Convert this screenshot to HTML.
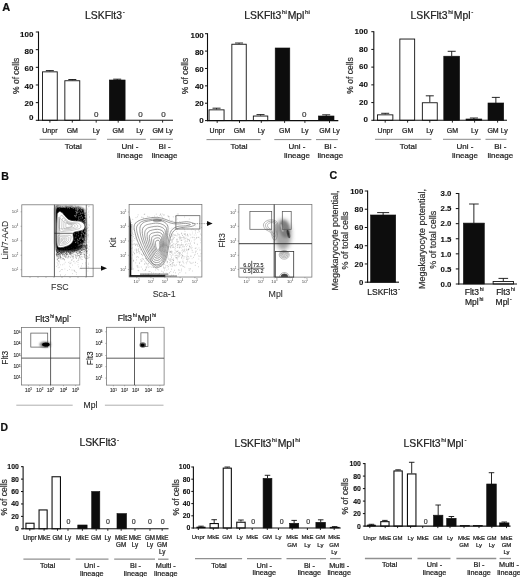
<!DOCTYPE html>
<html lang="en"><head><meta charset="utf-8"><title>Figure</title>
<style>html,body{margin:0;padding:0;background:#fff;}body{width:520px;height:577px;overflow:hidden;}svg{display:block;font-family:'Liberation Sans', sans-serif;}</style></head><body>
<svg width="520" height="577" viewBox="0 0 520 577">
<defs><filter id="b1" x="-30%" y="-30%" width="160%" height="160%"><feGaussianBlur stdDeviation="1"/></filter><filter id="b2" x="-30%" y="-30%" width="160%" height="160%"><feGaussianBlur stdDeviation="2"/></filter><filter id="b05" x="-30%" y="-30%" width="160%" height="160%"><feGaussianBlur stdDeviation="0.5"/></filter><filter id="b03" x="-10%" y="-10%" width="120%" height="120%"><feGaussianBlur stdDeviation="0.3"/></filter></defs>
<rect width="520" height="577" fill="#fff"/>
<g filter="url(#b03)">
<text x="2.20" y="11.00" font-size="11" text-anchor="start" font-weight="bold" fill="#111" stroke="#111" stroke-width="0.22">A</text>
<text x="1.30" y="180.20" font-size="10.6" text-anchor="start" font-weight="bold" fill="#111" stroke="#111" stroke-width="0.22">B</text>
<text x="329.50" y="179.30" font-size="10.6" text-anchor="start" font-weight="bold" fill="#111" stroke="#111" stroke-width="0.22">C</text>
<text x="0.50" y="430.70" font-size="10.4" text-anchor="start" font-weight="bold" fill="#111" stroke="#111" stroke-width="0.22">D</text>
<text x="85.00" y="18.50" font-size="10.4" text-anchor="start" fill="#222" stroke="#222" stroke-width="0.22">LSKFlt3<tspan dx="0.7" dy="-4.78" font-size="6.24">-</tspan></text>
<line x1="49.85" y1="71.40" x2="49.85" y2="70.60" stroke="#111" stroke-width="0.9"/>
<line x1="45.85" y1="70.60" x2="53.85" y2="70.60" stroke="#111" stroke-width="0.9"/>
<rect x="42.45" y="71.85" width="14.80" height="48.45" fill="#fff" stroke="#111" stroke-width="0.9"/>
<line x1="72.30" y1="80.30" x2="72.30" y2="79.50" stroke="#111" stroke-width="0.9"/>
<line x1="68.30" y1="79.50" x2="76.30" y2="79.50" stroke="#111" stroke-width="0.9"/>
<rect x="64.85" y="80.75" width="14.90" height="39.55" fill="#fff" stroke="#111" stroke-width="0.9"/>
<line x1="117.20" y1="80.00" x2="117.20" y2="79.20" stroke="#111" stroke-width="0.9"/>
<line x1="113.20" y1="79.20" x2="121.20" y2="79.20" stroke="#111" stroke-width="0.9"/>
<rect x="109.30" y="80.00" width="15.80" height="40.30" fill="#0a0a0a" stroke="#0a0a0a" stroke-width="0.6"/>
<line x1="38.50" y1="31.50" x2="38.50" y2="120.80" stroke="#111" stroke-width="1.1"/>
<line x1="38.00" y1="120.30" x2="173.00" y2="120.30" stroke="#111" stroke-width="1.1"/>
<line x1="35.80" y1="120.30" x2="38.50" y2="120.30" stroke="#111" stroke-width="1"/>
<text x="33.40" y="120.08" font-size="8" text-anchor="end" font-weight="bold" fill="#111" stroke="#111" stroke-width="0.12">0</text>
<line x1="35.80" y1="102.64" x2="38.50" y2="102.64" stroke="#111" stroke-width="1"/>
<text x="33.40" y="105.98" font-size="8" text-anchor="end" font-weight="bold" fill="#111" stroke="#111" stroke-width="0.12">20</text>
<line x1="35.80" y1="84.98" x2="38.50" y2="84.98" stroke="#111" stroke-width="1"/>
<text x="33.40" y="88.63" font-size="8" text-anchor="end" font-weight="bold" fill="#111" stroke="#111" stroke-width="0.12">40</text>
<line x1="35.80" y1="67.32" x2="38.50" y2="67.32" stroke="#111" stroke-width="1"/>
<text x="33.40" y="71.28" font-size="8" text-anchor="end" font-weight="bold" fill="#111" stroke="#111" stroke-width="0.12">60</text>
<line x1="35.80" y1="49.66" x2="38.50" y2="49.66" stroke="#111" stroke-width="1"/>
<text x="33.40" y="53.93" font-size="8" text-anchor="end" font-weight="bold" fill="#111" stroke="#111" stroke-width="0.12">80</text>
<line x1="35.80" y1="32.00" x2="38.50" y2="32.00" stroke="#111" stroke-width="1"/>
<text x="33.40" y="36.58" font-size="8" text-anchor="end" font-weight="bold" fill="#111" stroke="#111" stroke-width="0.12">100</text>
<line x1="49.90" y1="120.30" x2="49.90" y2="122.60" stroke="#111" stroke-width="0.9"/>
<line x1="72.30" y1="120.30" x2="72.30" y2="122.60" stroke="#111" stroke-width="0.9"/>
<line x1="96.20" y1="120.30" x2="96.20" y2="122.60" stroke="#111" stroke-width="0.9"/>
<line x1="118.20" y1="120.30" x2="118.20" y2="122.60" stroke="#111" stroke-width="0.9"/>
<line x1="139.80" y1="120.30" x2="139.80" y2="122.60" stroke="#111" stroke-width="0.9"/>
<line x1="162.60" y1="120.30" x2="162.60" y2="122.60" stroke="#111" stroke-width="0.9"/>
<text x="96.30" y="117.26" font-size="8" text-anchor="middle" fill="#3a3a3a" stroke="#3a3a3a" stroke-width="0.22">0</text>
<text x="140.60" y="117.26" font-size="8" text-anchor="middle" fill="#3a3a3a" stroke="#3a3a3a" stroke-width="0.22">0</text>
<text x="163.50" y="117.26" font-size="8" text-anchor="middle" fill="#3a3a3a" stroke="#3a3a3a" stroke-width="0.22">0</text>
<text x="49.90" y="133.00" font-size="7" text-anchor="middle" fill="#222" stroke="#222" stroke-width="0.22">Unpr</text>
<text x="72.30" y="133.00" font-size="7" text-anchor="middle" fill="#222" stroke="#222" stroke-width="0.22">GM</text>
<text x="96.20" y="133.00" font-size="7" text-anchor="middle" fill="#222" stroke="#222" stroke-width="0.22">Ly</text>
<text x="118.20" y="133.00" font-size="7" text-anchor="middle" fill="#222" stroke="#222" stroke-width="0.22">GM</text>
<text x="139.80" y="133.00" font-size="7" text-anchor="middle" fill="#222" stroke="#222" stroke-width="0.22">Ly</text>
<text x="162.60" y="133.00" font-size="7" text-anchor="middle" fill="#222" stroke="#222" stroke-width="0.22">GM Ly</text>
<line x1="39.60" y1="139.30" x2="96.30" y2="139.30" stroke="#555" stroke-width="0.7"/>
<text x="73.30" y="148.80" font-size="8.0" text-anchor="middle" fill="#222" stroke="#222" stroke-width="0.22">Total</text>
<line x1="107.00" y1="139.30" x2="145.80" y2="139.30" stroke="#555" stroke-width="0.7"/>
<text x="130.00" y="148.80" font-size="8.0" text-anchor="middle" fill="#222" stroke="#222" stroke-width="0.22">Uni -</text>
<text x="130.00" y="157.60" font-size="8.0" text-anchor="middle" fill="#222" stroke="#222" stroke-width="0.22">lineage</text>
<line x1="150.00" y1="139.30" x2="173.00" y2="139.30" stroke="#555" stroke-width="0.7"/>
<text x="164.60" y="148.80" font-size="8.0" text-anchor="middle" fill="#222" stroke="#222" stroke-width="0.22">Bi -</text>
<text x="164.60" y="157.60" font-size="8.0" text-anchor="middle" fill="#222" stroke="#222" stroke-width="0.22">lineage</text>
<text x="18.84" y="75.80" font-size="8.5" text-anchor="middle" fill="#333" stroke="#333" stroke-width="0.22" transform="rotate(-90 18.84 75.80)">% of cells</text>
<text x="244.30" y="18.70" font-size="10.4" text-anchor="start" fill="#222" stroke="#222" stroke-width="0.22">LSKFlt3<tspan dx="0.7" dy="-4.78" font-size="6.24">hi</tspan><tspan dx="0.8" dy="4.78">Mpl</tspan><tspan dx="0.7" dy="-4.78" font-size="6.24">hi</tspan></text>
<line x1="216.55" y1="109.40" x2="216.55" y2="108.20" stroke="#111" stroke-width="0.9"/>
<line x1="212.55" y1="108.20" x2="220.55" y2="108.20" stroke="#111" stroke-width="0.9"/>
<rect x="209.05" y="109.85" width="15.00" height="10.75" fill="#fff" stroke="#111" stroke-width="0.9"/>
<line x1="239.05" y1="43.80" x2="239.05" y2="43.00" stroke="#111" stroke-width="0.9"/>
<line x1="235.05" y1="43.00" x2="243.05" y2="43.00" stroke="#111" stroke-width="0.9"/>
<rect x="231.85" y="44.25" width="14.40" height="76.35" fill="#fff" stroke="#111" stroke-width="0.9"/>
<line x1="260.55" y1="115.60" x2="260.55" y2="114.60" stroke="#111" stroke-width="0.9"/>
<line x1="256.55" y1="114.60" x2="264.55" y2="114.60" stroke="#111" stroke-width="0.9"/>
<rect x="253.35" y="116.05" width="14.40" height="4.55" fill="#fff" stroke="#111" stroke-width="0.9"/>
<rect x="275.20" y="48.00" width="14.60" height="72.60" fill="#0a0a0a" stroke="#0a0a0a" stroke-width="0.6"/>
<line x1="326.20" y1="116.00" x2="326.20" y2="114.80" stroke="#111" stroke-width="0.9"/>
<line x1="322.20" y1="114.80" x2="330.20" y2="114.80" stroke="#111" stroke-width="0.9"/>
<rect x="318.40" y="116.00" width="15.60" height="4.60" fill="#0a0a0a" stroke="#0a0a0a" stroke-width="0.6"/>
<line x1="207.50" y1="33.20" x2="207.50" y2="121.10" stroke="#111" stroke-width="1.1"/>
<line x1="207.00" y1="120.60" x2="338.30" y2="120.60" stroke="#111" stroke-width="1.1"/>
<line x1="205.00" y1="120.60" x2="207.50" y2="120.60" stroke="#111" stroke-width="1"/>
<text x="203.80" y="123.48" font-size="8" text-anchor="end" font-weight="bold" fill="#111" stroke="#111" stroke-width="0.12">0</text>
<line x1="205.00" y1="103.22" x2="207.50" y2="103.22" stroke="#111" stroke-width="1"/>
<text x="203.80" y="106.34" font-size="8" text-anchor="end" font-weight="bold" fill="#111" stroke="#111" stroke-width="0.12">20</text>
<line x1="205.00" y1="85.84" x2="207.50" y2="85.84" stroke="#111" stroke-width="1"/>
<text x="203.80" y="89.20" font-size="8" text-anchor="end" font-weight="bold" fill="#111" stroke="#111" stroke-width="0.12">40</text>
<line x1="205.00" y1="68.46" x2="207.50" y2="68.46" stroke="#111" stroke-width="1"/>
<text x="203.80" y="72.06" font-size="8" text-anchor="end" font-weight="bold" fill="#111" stroke="#111" stroke-width="0.12">60</text>
<line x1="205.00" y1="51.08" x2="207.50" y2="51.08" stroke="#111" stroke-width="1"/>
<text x="203.80" y="54.92" font-size="8" text-anchor="end" font-weight="bold" fill="#111" stroke="#111" stroke-width="0.12">80</text>
<line x1="205.00" y1="33.70" x2="207.50" y2="33.70" stroke="#111" stroke-width="1"/>
<text x="203.80" y="37.78" font-size="8" text-anchor="end" font-weight="bold" fill="#111" stroke="#111" stroke-width="0.12">100</text>
<line x1="217.20" y1="120.60" x2="217.20" y2="122.90" stroke="#111" stroke-width="0.9"/>
<line x1="239.50" y1="120.60" x2="239.50" y2="122.90" stroke="#111" stroke-width="0.9"/>
<line x1="261.30" y1="120.60" x2="261.30" y2="122.90" stroke="#111" stroke-width="0.9"/>
<line x1="284.60" y1="120.60" x2="284.60" y2="122.90" stroke="#111" stroke-width="0.9"/>
<line x1="304.90" y1="120.60" x2="304.90" y2="122.90" stroke="#111" stroke-width="0.9"/>
<line x1="329.50" y1="120.60" x2="329.50" y2="122.90" stroke="#111" stroke-width="0.9"/>
<text x="304.20" y="117.36" font-size="8" text-anchor="middle" fill="#3a3a3a" stroke="#3a3a3a" stroke-width="0.22">0</text>
<text x="217.20" y="133.00" font-size="7" text-anchor="middle" fill="#222" stroke="#222" stroke-width="0.22">Unpr</text>
<text x="239.50" y="133.00" font-size="7" text-anchor="middle" fill="#222" stroke="#222" stroke-width="0.22">GM</text>
<text x="261.30" y="133.00" font-size="7" text-anchor="middle" fill="#222" stroke="#222" stroke-width="0.22">Ly</text>
<text x="284.60" y="133.00" font-size="7" text-anchor="middle" fill="#222" stroke="#222" stroke-width="0.22">GM</text>
<text x="304.90" y="133.00" font-size="7" text-anchor="middle" fill="#222" stroke="#222" stroke-width="0.22">Ly</text>
<text x="329.50" y="133.00" font-size="7" text-anchor="middle" fill="#222" stroke="#222" stroke-width="0.22">GM Ly</text>
<line x1="206.50" y1="139.60" x2="260.60" y2="139.60" stroke="#555" stroke-width="0.7"/>
<text x="239.00" y="149.10" font-size="8.0" text-anchor="middle" fill="#222" stroke="#222" stroke-width="0.22">Total</text>
<line x1="274.30" y1="139.60" x2="311.40" y2="139.60" stroke="#555" stroke-width="0.7"/>
<text x="297.00" y="149.10" font-size="8.0" text-anchor="middle" fill="#222" stroke="#222" stroke-width="0.22">Uni -</text>
<text x="297.00" y="157.90" font-size="8.0" text-anchor="middle" fill="#222" stroke="#222" stroke-width="0.22">lineage</text>
<line x1="316.00" y1="139.60" x2="337.80" y2="139.60" stroke="#555" stroke-width="0.7"/>
<text x="330.30" y="149.10" font-size="8.0" text-anchor="middle" fill="#222" stroke="#222" stroke-width="0.22">Bi -</text>
<text x="330.30" y="157.90" font-size="8.0" text-anchor="middle" fill="#222" stroke="#222" stroke-width="0.22">lineage</text>
<text x="188.44" y="76.00" font-size="8.5" text-anchor="middle" fill="#333" stroke="#333" stroke-width="0.22" transform="rotate(-90 188.44 76.00)">% of cells</text>
<text x="410.50" y="18.60" font-size="10.4" text-anchor="start" fill="#222" stroke="#222" stroke-width="0.22">LSKFlt3<tspan dx="0.7" dy="-4.78" font-size="6.24">hi</tspan><tspan dx="0.8" dy="4.78">Mpl</tspan><tspan dx="0.7" dy="-4.78" font-size="6.24">-</tspan></text>
<line x1="385.20" y1="114.40" x2="385.20" y2="113.30" stroke="#111" stroke-width="0.9"/>
<line x1="381.20" y1="113.30" x2="389.20" y2="113.30" stroke="#111" stroke-width="0.9"/>
<rect x="377.55" y="114.85" width="15.30" height="5.45" fill="#fff" stroke="#111" stroke-width="0.9"/>
<rect x="399.85" y="39.05" width="14.80" height="81.25" fill="#fff" stroke="#111" stroke-width="0.9"/>
<line x1="429.80" y1="102.30" x2="429.80" y2="95.80" stroke="#111" stroke-width="0.9"/>
<line x1="425.80" y1="95.80" x2="433.80" y2="95.80" stroke="#111" stroke-width="0.9"/>
<rect x="422.35" y="102.75" width="14.90" height="17.55" fill="#fff" stroke="#111" stroke-width="0.9"/>
<line x1="451.70" y1="56.20" x2="451.70" y2="51.30" stroke="#111" stroke-width="0.9"/>
<line x1="447.70" y1="51.30" x2="455.70" y2="51.30" stroke="#111" stroke-width="0.9"/>
<rect x="443.80" y="56.20" width="15.80" height="64.10" fill="#0a0a0a" stroke="#0a0a0a" stroke-width="0.6"/>
<line x1="473.90" y1="119.00" x2="473.90" y2="118.00" stroke="#111" stroke-width="0.9"/>
<line x1="469.90" y1="118.00" x2="477.90" y2="118.00" stroke="#111" stroke-width="0.9"/>
<rect x="466.00" y="119.00" width="15.80" height="1.30" fill="#0a0a0a" stroke="#0a0a0a" stroke-width="0.6"/>
<line x1="495.85" y1="103.00" x2="495.85" y2="97.40" stroke="#111" stroke-width="0.9"/>
<line x1="491.85" y1="97.40" x2="499.85" y2="97.40" stroke="#111" stroke-width="0.9"/>
<rect x="488.00" y="103.00" width="15.70" height="17.30" fill="#0a0a0a" stroke="#0a0a0a" stroke-width="0.6"/>
<line x1="373.80" y1="31.20" x2="373.80" y2="120.80" stroke="#111" stroke-width="1.1"/>
<line x1="373.30" y1="120.30" x2="507.00" y2="120.30" stroke="#111" stroke-width="1.1"/>
<line x1="371.30" y1="120.30" x2="373.80" y2="120.30" stroke="#111" stroke-width="1"/>
<text x="367.90" y="122.18" font-size="8" text-anchor="end" font-weight="bold" fill="#111" stroke="#111" stroke-width="0.12">0</text>
<line x1="371.30" y1="102.58" x2="373.80" y2="102.58" stroke="#111" stroke-width="1"/>
<text x="367.90" y="104.54" font-size="8" text-anchor="end" font-weight="bold" fill="#111" stroke="#111" stroke-width="0.12">20</text>
<line x1="371.30" y1="84.86" x2="373.80" y2="84.86" stroke="#111" stroke-width="1"/>
<text x="367.90" y="86.90" font-size="8" text-anchor="end" font-weight="bold" fill="#111" stroke="#111" stroke-width="0.12">40</text>
<line x1="371.30" y1="67.14" x2="373.80" y2="67.14" stroke="#111" stroke-width="1"/>
<text x="367.90" y="69.26" font-size="8" text-anchor="end" font-weight="bold" fill="#111" stroke="#111" stroke-width="0.12">60</text>
<line x1="371.30" y1="49.42" x2="373.80" y2="49.42" stroke="#111" stroke-width="1"/>
<text x="367.90" y="51.62" font-size="8" text-anchor="end" font-weight="bold" fill="#111" stroke="#111" stroke-width="0.12">80</text>
<line x1="371.30" y1="31.70" x2="373.80" y2="31.70" stroke="#111" stroke-width="1"/>
<text x="367.90" y="33.98" font-size="8" text-anchor="end" font-weight="bold" fill="#111" stroke="#111" stroke-width="0.12">100</text>
<line x1="385.20" y1="120.30" x2="385.20" y2="122.60" stroke="#111" stroke-width="0.9"/>
<line x1="407.60" y1="120.30" x2="407.60" y2="122.60" stroke="#111" stroke-width="0.9"/>
<line x1="429.80" y1="120.30" x2="429.80" y2="122.60" stroke="#111" stroke-width="0.9"/>
<line x1="452.40" y1="120.30" x2="452.40" y2="122.60" stroke="#111" stroke-width="0.9"/>
<line x1="474.60" y1="120.30" x2="474.60" y2="122.60" stroke="#111" stroke-width="0.9"/>
<line x1="497.60" y1="120.30" x2="497.60" y2="122.60" stroke="#111" stroke-width="0.9"/>
<text x="385.20" y="133.00" font-size="7" text-anchor="middle" fill="#222" stroke="#222" stroke-width="0.22">Unpr</text>
<text x="407.60" y="133.00" font-size="7" text-anchor="middle" fill="#222" stroke="#222" stroke-width="0.22">GM</text>
<text x="429.80" y="133.00" font-size="7" text-anchor="middle" fill="#222" stroke="#222" stroke-width="0.22">Ly</text>
<text x="452.40" y="133.00" font-size="7" text-anchor="middle" fill="#222" stroke="#222" stroke-width="0.22">GM</text>
<text x="474.60" y="133.00" font-size="7" text-anchor="middle" fill="#222" stroke="#222" stroke-width="0.22">Ly</text>
<text x="497.60" y="133.00" font-size="7" text-anchor="middle" fill="#222" stroke="#222" stroke-width="0.22">GM Ly</text>
<line x1="375.00" y1="139.30" x2="431.50" y2="139.30" stroke="#555" stroke-width="0.7"/>
<text x="408.30" y="148.80" font-size="8.0" text-anchor="middle" fill="#222" stroke="#222" stroke-width="0.22">Total</text>
<line x1="443.00" y1="139.30" x2="480.80" y2="139.30" stroke="#555" stroke-width="0.7"/>
<text x="465.00" y="148.80" font-size="8.0" text-anchor="middle" fill="#222" stroke="#222" stroke-width="0.22">Uni -</text>
<text x="465.00" y="157.60" font-size="8.0" text-anchor="middle" fill="#222" stroke="#222" stroke-width="0.22">lineage</text>
<line x1="485.50" y1="139.30" x2="506.50" y2="139.30" stroke="#555" stroke-width="0.7"/>
<text x="500.30" y="148.80" font-size="8.0" text-anchor="middle" fill="#222" stroke="#222" stroke-width="0.22">Bi -</text>
<text x="500.30" y="157.60" font-size="8.0" text-anchor="middle" fill="#222" stroke="#222" stroke-width="0.22">lineage</text>
<text x="352.94" y="75.50" font-size="8.5" text-anchor="middle" fill="#333" stroke="#333" stroke-width="0.22" transform="rotate(-90 352.94 75.50)">% of cells</text>
<line x1="383.15" y1="215.00" x2="383.15" y2="212.60" stroke="#111" stroke-width="0.9"/>
<line x1="377.15" y1="212.60" x2="389.15" y2="212.60" stroke="#111" stroke-width="0.9"/>
<rect x="370.60" y="215.00" width="25.10" height="67.20" fill="#0a0a0a" stroke="#0a0a0a" stroke-width="0.6"/>
<line x1="367.60" y1="190.50" x2="367.60" y2="282.70" stroke="#111" stroke-width="1.1"/>
<line x1="367.10" y1="282.20" x2="399.00" y2="282.20" stroke="#111" stroke-width="1.1"/>
<line x1="364.80" y1="282.20" x2="367.60" y2="282.20" stroke="#111" stroke-width="1"/>
<text x="363.30" y="285.01" font-size="7.8" text-anchor="end" font-weight="bold" fill="#111" stroke="#111" stroke-width="0.12">0</text>
<line x1="364.80" y1="263.96" x2="367.60" y2="263.96" stroke="#111" stroke-width="1"/>
<text x="363.30" y="266.77" font-size="7.8" text-anchor="end" font-weight="bold" fill="#111" stroke="#111" stroke-width="0.12">20</text>
<line x1="364.80" y1="245.72" x2="367.60" y2="245.72" stroke="#111" stroke-width="1"/>
<text x="363.30" y="248.53" font-size="7.8" text-anchor="end" font-weight="bold" fill="#111" stroke="#111" stroke-width="0.12">40</text>
<line x1="364.80" y1="227.48" x2="367.60" y2="227.48" stroke="#111" stroke-width="1"/>
<text x="363.30" y="230.29" font-size="7.8" text-anchor="end" font-weight="bold" fill="#111" stroke="#111" stroke-width="0.12">60</text>
<line x1="364.80" y1="209.24" x2="367.60" y2="209.24" stroke="#111" stroke-width="1"/>
<text x="363.30" y="212.05" font-size="7.8" text-anchor="end" font-weight="bold" fill="#111" stroke="#111" stroke-width="0.12">80</text>
<line x1="364.80" y1="191.00" x2="367.60" y2="191.00" stroke="#111" stroke-width="1"/>
<text x="363.30" y="193.81" font-size="7.8" text-anchor="end" font-weight="bold" fill="#111" stroke="#111" stroke-width="0.12">100</text>
<text x="383.60" y="294.70" font-size="8.5" text-anchor="middle" fill="#222" stroke="#222" stroke-width="0.22">LSKFlt3<tspan dx="0.7" dy="-3.91" font-size="5.10">-</tspan></text>
<text x="337.92" y="240.50" font-size="9" text-anchor="middle" fill="#333" stroke="#333" stroke-width="0.22" transform="rotate(-90 337.92 240.50)">Megakaryocyte potential,</text>
<text x="348.22" y="240.50" font-size="9" text-anchor="middle" fill="#333" stroke="#333" stroke-width="0.22" transform="rotate(-90 348.22 240.50)">% of total cells</text>
<line x1="473.85" y1="223.10" x2="473.85" y2="204.00" stroke="#111" stroke-width="0.9"/>
<line x1="469.05" y1="204.00" x2="478.65" y2="204.00" stroke="#111" stroke-width="0.9"/>
<rect x="463.40" y="223.10" width="20.90" height="60.90" fill="#0a0a0a" stroke="#0a0a0a" stroke-width="0.6"/>
<line x1="503.30" y1="281.00" x2="503.30" y2="278.40" stroke="#111" stroke-width="0.9"/>
<line x1="498.50" y1="278.40" x2="508.10" y2="278.40" stroke="#111" stroke-width="0.9"/>
<rect x="493.15" y="281.45" width="20.30" height="2.55" fill="#fff" stroke="#111" stroke-width="0.9"/>
<line x1="458.80" y1="193.00" x2="458.80" y2="284.50" stroke="#111" stroke-width="1.1"/>
<line x1="458.30" y1="284.00" x2="517.00" y2="284.00" stroke="#111" stroke-width="1.1"/>
<line x1="455.80" y1="284.00" x2="458.80" y2="284.00" stroke="#111" stroke-width="1"/>
<text x="451.40" y="286.81" font-size="7.8" text-anchor="end" font-weight="bold" fill="#111" stroke="#111" stroke-width="0.12">0.0</text>
<line x1="455.80" y1="268.92" x2="458.80" y2="268.92" stroke="#111" stroke-width="1"/>
<text x="451.40" y="271.72" font-size="7.8" text-anchor="end" font-weight="bold" fill="#111" stroke="#111" stroke-width="0.12">0.5</text>
<line x1="455.80" y1="253.83" x2="458.80" y2="253.83" stroke="#111" stroke-width="1"/>
<text x="451.40" y="256.64" font-size="7.8" text-anchor="end" font-weight="bold" fill="#111" stroke="#111" stroke-width="0.12">1.0</text>
<line x1="455.80" y1="238.75" x2="458.80" y2="238.75" stroke="#111" stroke-width="1"/>
<text x="451.40" y="241.56" font-size="7.8" text-anchor="end" font-weight="bold" fill="#111" stroke="#111" stroke-width="0.12">1.5</text>
<line x1="455.80" y1="223.67" x2="458.80" y2="223.67" stroke="#111" stroke-width="1"/>
<text x="451.40" y="226.47" font-size="7.8" text-anchor="end" font-weight="bold" fill="#111" stroke="#111" stroke-width="0.12">2.0</text>
<line x1="455.80" y1="208.58" x2="458.80" y2="208.58" stroke="#111" stroke-width="1"/>
<text x="451.40" y="211.39" font-size="7.8" text-anchor="end" font-weight="bold" fill="#111" stroke="#111" stroke-width="0.12">2.5</text>
<line x1="455.80" y1="193.50" x2="458.80" y2="193.50" stroke="#111" stroke-width="1"/>
<text x="451.40" y="196.31" font-size="7.8" text-anchor="end" font-weight="bold" fill="#111" stroke="#111" stroke-width="0.12">3.0</text>
<text x="474.20" y="294.80" font-size="8.5" text-anchor="middle" fill="#222" stroke="#222" stroke-width="0.22">Flt3<tspan dx="0.7" dy="-3.91" font-size="5.10">hi</tspan></text>
<text x="474.20" y="305.00" font-size="8.5" text-anchor="middle" fill="#222" stroke="#222" stroke-width="0.22">Mpl<tspan dx="0.7" dy="-3.91" font-size="5.10">hi</tspan></text>
<text x="505.60" y="294.80" font-size="8.5" text-anchor="middle" fill="#222" stroke="#222" stroke-width="0.22">Flt3<tspan dx="0.7" dy="-3.91" font-size="5.10">hi</tspan></text>
<text x="503.60" y="305.00" font-size="8.5" text-anchor="middle" fill="#222" stroke="#222" stroke-width="0.22">Mpl<tspan dx="0.7" dy="-3.91" font-size="5.10">-</tspan></text>
<text x="425.22" y="239.00" font-size="9" text-anchor="middle" fill="#333" stroke="#333" stroke-width="0.22" transform="rotate(-90 425.22 239.00)">Megakaryocyte potential,</text>
<text x="435.62" y="239.70" font-size="9" text-anchor="middle" fill="#333" stroke="#333" stroke-width="0.22" transform="rotate(-90 435.62 239.70)">% of total cells</text>
<text x="79.40" y="446.40" font-size="10.4" text-anchor="start" fill="#222" stroke="#222" stroke-width="0.22">LSKFlt3<tspan dx="0.7" dy="-4.78" font-size="6.24">-</tspan></text>
<rect x="25.95" y="523.25" width="8.10" height="5.55" fill="#fff" stroke="#111" stroke-width="1.1"/>
<rect x="39.05" y="509.95" width="8.10" height="18.85" fill="#fff" stroke="#111" stroke-width="1.1"/>
<rect x="52.05" y="476.75" width="8.40" height="52.05" fill="#fff" stroke="#111" stroke-width="1.1"/>
<rect x="77.80" y="525.00" width="9.30" height="3.80" fill="#0a0a0a" stroke="#0a0a0a" stroke-width="0.6"/>
<rect x="91.70" y="491.50" width="8.10" height="37.30" fill="#0a0a0a" stroke="#0a0a0a" stroke-width="0.6"/>
<rect x="117.00" y="513.60" width="9.50" height="15.20" fill="#0a0a0a" stroke="#0a0a0a" stroke-width="0.6"/>
<line x1="23.10" y1="466.20" x2="23.10" y2="529.30" stroke="#111" stroke-width="1.1"/>
<line x1="22.60" y1="528.80" x2="168.50" y2="528.80" stroke="#111" stroke-width="1.1"/>
<line x1="21.00" y1="528.80" x2="23.10" y2="528.80" stroke="#111" stroke-width="1"/>
<text x="18.80" y="531.28" font-size="6.9" text-anchor="end" font-weight="bold" fill="#111" stroke="#111" stroke-width="0.12">0</text>
<line x1="21.00" y1="516.38" x2="23.10" y2="516.38" stroke="#111" stroke-width="1"/>
<text x="18.80" y="518.86" font-size="6.9" text-anchor="end" font-weight="bold" fill="#111" stroke="#111" stroke-width="0.12">20</text>
<line x1="21.00" y1="503.96" x2="23.10" y2="503.96" stroke="#111" stroke-width="1"/>
<text x="18.80" y="506.44" font-size="6.9" text-anchor="end" font-weight="bold" fill="#111" stroke="#111" stroke-width="0.12">40</text>
<line x1="21.00" y1="491.54" x2="23.10" y2="491.54" stroke="#111" stroke-width="1"/>
<text x="18.80" y="494.02" font-size="6.9" text-anchor="end" font-weight="bold" fill="#111" stroke="#111" stroke-width="0.12">60</text>
<line x1="21.00" y1="479.12" x2="23.10" y2="479.12" stroke="#111" stroke-width="1"/>
<text x="18.80" y="481.60" font-size="6.9" text-anchor="end" font-weight="bold" fill="#111" stroke="#111" stroke-width="0.12">80</text>
<line x1="21.00" y1="466.70" x2="23.10" y2="466.70" stroke="#111" stroke-width="1"/>
<text x="18.80" y="469.18" font-size="6.9" text-anchor="end" font-weight="bold" fill="#111" stroke="#111" stroke-width="0.12">100</text>
<line x1="29.80" y1="528.80" x2="29.80" y2="530.80" stroke="#111" stroke-width="0.9"/>
<line x1="44.10" y1="528.80" x2="44.10" y2="530.80" stroke="#111" stroke-width="0.9"/>
<line x1="57.50" y1="528.80" x2="57.50" y2="530.80" stroke="#111" stroke-width="0.9"/>
<line x1="68.00" y1="528.80" x2="68.00" y2="530.80" stroke="#111" stroke-width="0.9"/>
<line x1="82.40" y1="528.80" x2="82.40" y2="530.80" stroke="#111" stroke-width="0.9"/>
<line x1="96.20" y1="528.80" x2="96.20" y2="530.80" stroke="#111" stroke-width="0.9"/>
<line x1="107.80" y1="528.80" x2="107.80" y2="530.80" stroke="#111" stroke-width="0.9"/>
<line x1="121.20" y1="528.80" x2="121.20" y2="530.80" stroke="#111" stroke-width="0.9"/>
<line x1="135.00" y1="528.80" x2="135.00" y2="530.80" stroke="#111" stroke-width="0.9"/>
<line x1="150.00" y1="528.80" x2="150.00" y2="530.80" stroke="#111" stroke-width="0.9"/>
<line x1="162.20" y1="528.80" x2="162.20" y2="530.80" stroke="#111" stroke-width="0.9"/>
<text x="68.40" y="523.91" font-size="7" text-anchor="middle" fill="#3a3a3a" stroke="#3a3a3a" stroke-width="0.22">0</text>
<text x="108.00" y="523.91" font-size="7" text-anchor="middle" fill="#3a3a3a" stroke="#3a3a3a" stroke-width="0.22">0</text>
<text x="133.80" y="523.91" font-size="7" text-anchor="middle" fill="#3a3a3a" stroke="#3a3a3a" stroke-width="0.22">0</text>
<text x="150.00" y="523.91" font-size="7" text-anchor="middle" fill="#3a3a3a" stroke="#3a3a3a" stroke-width="0.22">0</text>
<text x="162.70" y="523.91" font-size="7" text-anchor="middle" fill="#3a3a3a" stroke="#3a3a3a" stroke-width="0.22">0</text>
<text x="29.80" y="539.60" font-size="6.3" text-anchor="middle" fill="#222" stroke="#222" stroke-width="0.22">Unpr</text>
<text x="44.10" y="539.60" font-size="6.3" text-anchor="middle" fill="#222" stroke="#222" stroke-width="0.22">MkE</text>
<text x="57.50" y="539.60" font-size="6.3" text-anchor="middle" fill="#222" stroke="#222" stroke-width="0.22">GM</text>
<text x="68.00" y="539.60" font-size="6.3" text-anchor="middle" fill="#222" stroke="#222" stroke-width="0.22">Ly</text>
<text x="82.40" y="539.60" font-size="6.3" text-anchor="middle" fill="#222" stroke="#222" stroke-width="0.22">MkE</text>
<text x="96.20" y="539.60" font-size="6.3" text-anchor="middle" fill="#222" stroke="#222" stroke-width="0.22">GM</text>
<text x="107.80" y="539.60" font-size="6.3" text-anchor="middle" fill="#222" stroke="#222" stroke-width="0.22">Ly</text>
<text x="121.20" y="539.60" font-size="6.3" text-anchor="middle" fill="#222" stroke="#222" stroke-width="0.22">MkE</text>
<text x="121.20" y="546.90" font-size="6.3" text-anchor="middle" fill="#222" stroke="#222" stroke-width="0.22">GM</text>
<text x="135.00" y="539.60" font-size="6.3" text-anchor="middle" fill="#222" stroke="#222" stroke-width="0.22">MkE</text>
<text x="135.00" y="546.90" font-size="6.3" text-anchor="middle" fill="#222" stroke="#222" stroke-width="0.22">Ly</text>
<text x="150.00" y="539.60" font-size="6.3" text-anchor="middle" fill="#222" stroke="#222" stroke-width="0.22">GM</text>
<text x="150.00" y="546.90" font-size="6.3" text-anchor="middle" fill="#222" stroke="#222" stroke-width="0.22">Ly</text>
<text x="162.20" y="539.60" font-size="6.3" text-anchor="middle" fill="#222" stroke="#222" stroke-width="0.22">MkE</text>
<text x="162.20" y="546.90" font-size="6.3" text-anchor="middle" fill="#222" stroke="#222" stroke-width="0.22">GM</text>
<text x="162.20" y="554.20" font-size="6.3" text-anchor="middle" fill="#222" stroke="#222" stroke-width="0.22">Ly</text>
<line x1="23.40" y1="559.20" x2="70.20" y2="559.20" stroke="#909090" stroke-width="1.3"/>
<text x="47.60" y="567.80" font-size="7.3" text-anchor="middle" fill="#222" stroke="#222" stroke-width="0.22">Total</text>
<line x1="75.70" y1="559.20" x2="108.50" y2="559.20" stroke="#909090" stroke-width="1.3"/>
<text x="91.80" y="567.80" font-size="7.3" text-anchor="middle" fill="#222" stroke="#222" stroke-width="0.22">Uni -</text>
<text x="91.80" y="575.60" font-size="7.3" text-anchor="middle" fill="#222" stroke="#222" stroke-width="0.22">lineage</text>
<line x1="114.20" y1="559.20" x2="155.00" y2="559.20" stroke="#909090" stroke-width="1.3"/>
<text x="135.50" y="567.80" font-size="7.3" text-anchor="middle" fill="#222" stroke="#222" stroke-width="0.22">Bi -</text>
<text x="135.50" y="575.60" font-size="7.3" text-anchor="middle" fill="#222" stroke="#222" stroke-width="0.22">lineage</text>
<line x1="158.00" y1="559.20" x2="168.50" y2="559.20" stroke="#909090" stroke-width="1.3"/>
<text x="165.80" y="567.80" font-size="7.3" text-anchor="middle" fill="#222" stroke="#222" stroke-width="0.22">Multi -</text>
<text x="165.80" y="575.60" font-size="7.3" text-anchor="middle" fill="#222" stroke="#222" stroke-width="0.22">lineage</text>
<text x="7.34" y="497.40" font-size="8.5" text-anchor="middle" fill="#333" stroke="#333" stroke-width="0.22" transform="rotate(-90 7.34 497.40)">% of cells</text>
<text x="234.40" y="447.00" font-size="10.4" text-anchor="start" fill="#222" stroke="#222" stroke-width="0.22">LSKFlt3<tspan dx="0.7" dy="-4.78" font-size="6.24">hi</tspan><tspan dx="0.8" dy="4.78">Mpl</tspan><tspan dx="0.7" dy="-4.78" font-size="6.24">hi</tspan></text>
<line x1="201.00" y1="527.00" x2="201.00" y2="526.20" stroke="#111" stroke-width="0.9"/>
<line x1="198.25" y1="526.20" x2="203.75" y2="526.20" stroke="#111" stroke-width="0.9"/>
<rect x="196.80" y="527.00" width="8.40" height="1.00" fill="#0a0a0a" stroke="#0a0a0a" stroke-width="0.6"/>
<line x1="214.20" y1="523.00" x2="214.20" y2="519.70" stroke="#111" stroke-width="0.9"/>
<line x1="211.45" y1="519.70" x2="216.95" y2="519.70" stroke="#111" stroke-width="0.9"/>
<rect x="210.05" y="523.55" width="8.30" height="4.45" fill="#fff" stroke="#111" stroke-width="1.1"/>
<line x1="227.30" y1="467.60" x2="227.30" y2="467.00" stroke="#111" stroke-width="0.9"/>
<line x1="224.55" y1="467.00" x2="230.05" y2="467.00" stroke="#111" stroke-width="0.9"/>
<rect x="223.25" y="468.15" width="8.10" height="59.85" fill="#fff" stroke="#111" stroke-width="1.1"/>
<line x1="240.95" y1="521.70" x2="240.95" y2="520.00" stroke="#111" stroke-width="0.9"/>
<line x1="238.20" y1="520.00" x2="243.70" y2="520.00" stroke="#111" stroke-width="0.9"/>
<rect x="236.75" y="522.25" width="8.40" height="5.75" fill="#fff" stroke="#111" stroke-width="1.1"/>
<line x1="267.50" y1="478.40" x2="267.50" y2="475.30" stroke="#111" stroke-width="0.9"/>
<line x1="264.75" y1="475.30" x2="270.25" y2="475.30" stroke="#111" stroke-width="0.9"/>
<rect x="263.10" y="478.40" width="8.80" height="49.60" fill="#0a0a0a" stroke="#0a0a0a" stroke-width="0.6"/>
<line x1="294.15" y1="523.30" x2="294.15" y2="520.40" stroke="#111" stroke-width="0.9"/>
<line x1="291.40" y1="520.40" x2="296.90" y2="520.40" stroke="#111" stroke-width="0.9"/>
<rect x="289.60" y="523.30" width="9.10" height="4.70" fill="#0a0a0a" stroke="#0a0a0a" stroke-width="0.6"/>
<line x1="320.70" y1="522.30" x2="320.70" y2="519.80" stroke="#111" stroke-width="0.9"/>
<line x1="317.95" y1="519.80" x2="323.45" y2="519.80" stroke="#111" stroke-width="0.9"/>
<rect x="315.90" y="522.30" width="9.60" height="5.70" fill="#0a0a0a" stroke="#0a0a0a" stroke-width="0.6"/>
<line x1="334.65" y1="527.20" x2="334.65" y2="526.60" stroke="#111" stroke-width="0.9"/>
<line x1="331.90" y1="526.60" x2="337.40" y2="526.60" stroke="#111" stroke-width="0.9"/>
<rect x="330.10" y="527.20" width="9.10" height="0.80" fill="#0a0a0a" stroke="#0a0a0a" stroke-width="0.6"/>
<line x1="193.40" y1="466.50" x2="193.40" y2="528.50" stroke="#111" stroke-width="1.1"/>
<line x1="192.90" y1="528.00" x2="340.70" y2="528.00" stroke="#111" stroke-width="1.1"/>
<line x1="191.30" y1="528.00" x2="193.40" y2="528.00" stroke="#111" stroke-width="1"/>
<text x="190.30" y="530.48" font-size="6.9" text-anchor="end" font-weight="bold" fill="#111" stroke="#111" stroke-width="0.12">0</text>
<line x1="191.30" y1="515.80" x2="193.40" y2="515.80" stroke="#111" stroke-width="1"/>
<text x="190.30" y="518.28" font-size="6.9" text-anchor="end" font-weight="bold" fill="#111" stroke="#111" stroke-width="0.12">20</text>
<line x1="191.30" y1="503.60" x2="193.40" y2="503.60" stroke="#111" stroke-width="1"/>
<text x="190.30" y="506.08" font-size="6.9" text-anchor="end" font-weight="bold" fill="#111" stroke="#111" stroke-width="0.12">40</text>
<line x1="191.30" y1="491.40" x2="193.40" y2="491.40" stroke="#111" stroke-width="1"/>
<text x="190.30" y="493.88" font-size="6.9" text-anchor="end" font-weight="bold" fill="#111" stroke="#111" stroke-width="0.12">60</text>
<line x1="191.30" y1="479.20" x2="193.40" y2="479.20" stroke="#111" stroke-width="1"/>
<text x="190.30" y="481.68" font-size="6.9" text-anchor="end" font-weight="bold" fill="#111" stroke="#111" stroke-width="0.12">80</text>
<line x1="191.30" y1="467.00" x2="193.40" y2="467.00" stroke="#111" stroke-width="1"/>
<text x="190.30" y="469.48" font-size="6.9" text-anchor="end" font-weight="bold" fill="#111" stroke="#111" stroke-width="0.12">100</text>
<line x1="198.30" y1="528.00" x2="198.30" y2="530.00" stroke="#111" stroke-width="0.9"/>
<line x1="213.30" y1="528.00" x2="213.30" y2="530.00" stroke="#111" stroke-width="0.9"/>
<line x1="227.10" y1="528.00" x2="227.10" y2="530.00" stroke="#111" stroke-width="0.9"/>
<line x1="239.60" y1="528.00" x2="239.60" y2="530.00" stroke="#111" stroke-width="0.9"/>
<line x1="252.20" y1="528.00" x2="252.20" y2="530.00" stroke="#111" stroke-width="0.9"/>
<line x1="267.30" y1="528.00" x2="267.30" y2="530.00" stroke="#111" stroke-width="0.9"/>
<line x1="278.40" y1="528.00" x2="278.40" y2="530.00" stroke="#111" stroke-width="0.9"/>
<line x1="292.20" y1="528.00" x2="292.20" y2="530.00" stroke="#111" stroke-width="0.9"/>
<line x1="307.40" y1="528.00" x2="307.40" y2="530.00" stroke="#111" stroke-width="0.9"/>
<line x1="320.40" y1="528.00" x2="320.40" y2="530.00" stroke="#111" stroke-width="0.9"/>
<line x1="334.20" y1="528.00" x2="334.20" y2="530.00" stroke="#111" stroke-width="0.9"/>
<text x="253.30" y="523.91" font-size="7" text-anchor="middle" fill="#3a3a3a" stroke="#3a3a3a" stroke-width="0.22">0</text>
<text x="281.60" y="523.91" font-size="7" text-anchor="middle" fill="#3a3a3a" stroke="#3a3a3a" stroke-width="0.22">0</text>
<text x="308.20" y="523.91" font-size="7" text-anchor="middle" fill="#3a3a3a" stroke="#3a3a3a" stroke-width="0.22">0</text>
<text x="198.30" y="539.30" font-size="6.0" text-anchor="middle" fill="#222" stroke="#222" stroke-width="0.22">Unpr</text>
<text x="213.30" y="539.30" font-size="6.0" text-anchor="middle" fill="#222" stroke="#222" stroke-width="0.22">MkE</text>
<text x="227.10" y="539.30" font-size="6.0" text-anchor="middle" fill="#222" stroke="#222" stroke-width="0.22">GM</text>
<text x="239.60" y="539.30" font-size="6.0" text-anchor="middle" fill="#222" stroke="#222" stroke-width="0.22">Ly</text>
<text x="252.20" y="539.30" font-size="6.0" text-anchor="middle" fill="#222" stroke="#222" stroke-width="0.22">MkE</text>
<text x="267.30" y="539.30" font-size="6.0" text-anchor="middle" fill="#222" stroke="#222" stroke-width="0.22">GM</text>
<text x="278.40" y="539.30" font-size="6.0" text-anchor="middle" fill="#222" stroke="#222" stroke-width="0.22">Ly</text>
<text x="292.20" y="539.30" font-size="6.0" text-anchor="middle" fill="#222" stroke="#222" stroke-width="0.22">MkE</text>
<text x="292.20" y="546.60" font-size="6.0" text-anchor="middle" fill="#222" stroke="#222" stroke-width="0.22">GM</text>
<text x="307.40" y="539.30" font-size="6.0" text-anchor="middle" fill="#222" stroke="#222" stroke-width="0.22">MkE</text>
<text x="307.40" y="546.60" font-size="6.0" text-anchor="middle" fill="#222" stroke="#222" stroke-width="0.22">Ly</text>
<text x="320.40" y="539.30" font-size="6.0" text-anchor="middle" fill="#222" stroke="#222" stroke-width="0.22">GM</text>
<text x="320.40" y="546.60" font-size="6.0" text-anchor="middle" fill="#222" stroke="#222" stroke-width="0.22">Ly</text>
<text x="334.20" y="539.30" font-size="6.0" text-anchor="middle" fill="#222" stroke="#222" stroke-width="0.22">MkE</text>
<text x="334.20" y="546.60" font-size="6.0" text-anchor="middle" fill="#222" stroke="#222" stroke-width="0.22">GM</text>
<text x="334.20" y="553.90" font-size="6.0" text-anchor="middle" fill="#222" stroke="#222" stroke-width="0.22">Ly</text>
<line x1="195.00" y1="558.60" x2="242.10" y2="558.60" stroke="#909090" stroke-width="1.3"/>
<text x="218.90" y="567.60" font-size="7.3" text-anchor="middle" fill="#222" stroke="#222" stroke-width="0.22">Total</text>
<line x1="247.00" y1="558.60" x2="281.50" y2="558.60" stroke="#909090" stroke-width="1.3"/>
<text x="264.30" y="567.60" font-size="7.3" text-anchor="middle" fill="#222" stroke="#222" stroke-width="0.22">Uni -</text>
<text x="264.30" y="575.20" font-size="7.3" text-anchor="middle" fill="#222" stroke="#222" stroke-width="0.22">lineage</text>
<line x1="286.50" y1="558.60" x2="326.00" y2="558.60" stroke="#909090" stroke-width="1.3"/>
<text x="309.40" y="567.60" font-size="7.3" text-anchor="middle" fill="#222" stroke="#222" stroke-width="0.22">Bi -</text>
<text x="309.40" y="575.20" font-size="7.3" text-anchor="middle" fill="#222" stroke="#222" stroke-width="0.22">lineage</text>
<line x1="330.10" y1="558.60" x2="340.70" y2="558.60" stroke="#909090" stroke-width="1.3"/>
<text x="339.20" y="567.60" font-size="7.3" text-anchor="middle" fill="#222" stroke="#222" stroke-width="0.22">Multi -</text>
<text x="339.20" y="575.20" font-size="7.3" text-anchor="middle" fill="#222" stroke="#222" stroke-width="0.22">lineage</text>
<text x="178.84" y="497.30" font-size="8.5" text-anchor="middle" fill="#333" stroke="#333" stroke-width="0.22" transform="rotate(-90 178.84 497.30)">% of cells</text>
<text x="403.60" y="446.70" font-size="10.4" text-anchor="start" fill="#222" stroke="#222" stroke-width="0.22">LSKFlt3<tspan dx="0.7" dy="-4.78" font-size="6.24">hi</tspan><tspan dx="0.8" dy="4.78">Mpl</tspan><tspan dx="0.7" dy="-4.78" font-size="6.24">-</tspan></text>
<line x1="371.40" y1="525.00" x2="371.40" y2="524.30" stroke="#111" stroke-width="0.9"/>
<line x1="368.65" y1="524.30" x2="374.15" y2="524.30" stroke="#111" stroke-width="0.9"/>
<rect x="367.20" y="525.00" width="8.40" height="1.10" fill="#0a0a0a" stroke="#0a0a0a" stroke-width="0.6"/>
<line x1="384.90" y1="521.10" x2="384.90" y2="520.40" stroke="#111" stroke-width="0.9"/>
<line x1="382.15" y1="520.40" x2="387.65" y2="520.40" stroke="#111" stroke-width="0.9"/>
<rect x="380.75" y="521.65" width="8.30" height="4.45" fill="#fff" stroke="#111" stroke-width="1.1"/>
<line x1="398.10" y1="470.40" x2="398.10" y2="469.80" stroke="#111" stroke-width="0.9"/>
<line x1="395.35" y1="469.80" x2="400.85" y2="469.80" stroke="#111" stroke-width="0.9"/>
<rect x="393.95" y="470.95" width="8.30" height="55.15" fill="#fff" stroke="#111" stroke-width="1.1"/>
<line x1="411.70" y1="473.40" x2="411.70" y2="462.30" stroke="#111" stroke-width="0.9"/>
<line x1="408.95" y1="462.30" x2="414.45" y2="462.30" stroke="#111" stroke-width="0.9"/>
<rect x="407.45" y="473.95" width="8.50" height="52.15" fill="#fff" stroke="#111" stroke-width="1.1"/>
<line x1="438.20" y1="515.20" x2="438.20" y2="505.00" stroke="#111" stroke-width="0.9"/>
<line x1="435.45" y1="505.00" x2="440.95" y2="505.00" stroke="#111" stroke-width="0.9"/>
<rect x="433.50" y="515.20" width="9.40" height="10.90" fill="#0a0a0a" stroke="#0a0a0a" stroke-width="0.6"/>
<line x1="451.40" y1="518.30" x2="451.40" y2="516.50" stroke="#111" stroke-width="0.9"/>
<line x1="448.65" y1="516.50" x2="454.15" y2="516.50" stroke="#111" stroke-width="0.9"/>
<rect x="446.70" y="518.30" width="9.40" height="7.80" fill="#0a0a0a" stroke="#0a0a0a" stroke-width="0.6"/>
<rect x="460.20" y="525.50" width="9.40" height="0.60" fill="#0a0a0a" stroke="#0a0a0a" stroke-width="0.6"/>
<rect x="473.40" y="525.50" width="8.90" height="0.60" fill="#0a0a0a" stroke="#0a0a0a" stroke-width="0.6"/>
<line x1="491.50" y1="484.00" x2="491.50" y2="472.70" stroke="#111" stroke-width="0.9"/>
<line x1="488.75" y1="472.70" x2="494.25" y2="472.70" stroke="#111" stroke-width="0.9"/>
<rect x="486.70" y="484.00" width="9.60" height="42.10" fill="#0a0a0a" stroke="#0a0a0a" stroke-width="0.6"/>
<line x1="504.30" y1="522.90" x2="504.30" y2="522.00" stroke="#111" stroke-width="0.9"/>
<line x1="501.55" y1="522.00" x2="507.05" y2="522.00" stroke="#111" stroke-width="0.9"/>
<rect x="499.60" y="522.90" width="9.40" height="3.20" fill="#0a0a0a" stroke="#0a0a0a" stroke-width="0.6"/>
<line x1="365.00" y1="463.10" x2="365.00" y2="526.60" stroke="#111" stroke-width="1.1"/>
<line x1="364.50" y1="526.10" x2="510.50" y2="526.10" stroke="#111" stroke-width="1.1"/>
<line x1="362.90" y1="526.10" x2="365.00" y2="526.10" stroke="#111" stroke-width="1"/>
<text x="360.90" y="528.58" font-size="6.9" text-anchor="end" font-weight="bold" fill="#111" stroke="#111" stroke-width="0.12">0</text>
<line x1="362.90" y1="513.60" x2="365.00" y2="513.60" stroke="#111" stroke-width="1"/>
<text x="360.90" y="516.08" font-size="6.9" text-anchor="end" font-weight="bold" fill="#111" stroke="#111" stroke-width="0.12">20</text>
<line x1="362.90" y1="501.10" x2="365.00" y2="501.10" stroke="#111" stroke-width="1"/>
<text x="360.90" y="503.58" font-size="6.9" text-anchor="end" font-weight="bold" fill="#111" stroke="#111" stroke-width="0.12">40</text>
<line x1="362.90" y1="488.60" x2="365.00" y2="488.60" stroke="#111" stroke-width="1"/>
<text x="360.90" y="491.08" font-size="6.9" text-anchor="end" font-weight="bold" fill="#111" stroke="#111" stroke-width="0.12">60</text>
<line x1="362.90" y1="476.10" x2="365.00" y2="476.10" stroke="#111" stroke-width="1"/>
<text x="360.90" y="478.58" font-size="6.9" text-anchor="end" font-weight="bold" fill="#111" stroke="#111" stroke-width="0.12">80</text>
<line x1="362.90" y1="463.60" x2="365.00" y2="463.60" stroke="#111" stroke-width="1"/>
<text x="360.90" y="466.08" font-size="6.9" text-anchor="end" font-weight="bold" fill="#111" stroke="#111" stroke-width="0.12">100</text>
<line x1="369.80" y1="526.10" x2="369.80" y2="528.10" stroke="#111" stroke-width="0.9"/>
<line x1="385.20" y1="526.10" x2="385.20" y2="528.10" stroke="#111" stroke-width="0.9"/>
<line x1="397.60" y1="526.10" x2="397.60" y2="528.10" stroke="#111" stroke-width="0.9"/>
<line x1="410.60" y1="526.10" x2="410.60" y2="528.10" stroke="#111" stroke-width="0.9"/>
<line x1="422.70" y1="526.10" x2="422.70" y2="528.10" stroke="#111" stroke-width="0.9"/>
<line x1="437.80" y1="526.10" x2="437.80" y2="528.10" stroke="#111" stroke-width="0.9"/>
<line x1="450.00" y1="526.10" x2="450.00" y2="528.10" stroke="#111" stroke-width="0.9"/>
<line x1="464.00" y1="526.10" x2="464.00" y2="528.10" stroke="#111" stroke-width="0.9"/>
<line x1="479.00" y1="526.10" x2="479.00" y2="528.10" stroke="#111" stroke-width="0.9"/>
<line x1="491.80" y1="526.10" x2="491.80" y2="528.10" stroke="#111" stroke-width="0.9"/>
<line x1="506.50" y1="526.10" x2="506.50" y2="528.10" stroke="#111" stroke-width="0.9"/>
<text x="425.80" y="523.91" font-size="7" text-anchor="middle" fill="#3a3a3a" stroke="#3a3a3a" stroke-width="0.22">0</text>
<text x="369.80" y="539.50" font-size="6.0" text-anchor="middle" fill="#222" stroke="#222" stroke-width="0.22">Unpr</text>
<text x="385.20" y="539.50" font-size="6.0" text-anchor="middle" fill="#222" stroke="#222" stroke-width="0.22">MkE</text>
<text x="397.60" y="539.50" font-size="6.0" text-anchor="middle" fill="#222" stroke="#222" stroke-width="0.22">GM</text>
<text x="410.60" y="539.50" font-size="6.0" text-anchor="middle" fill="#222" stroke="#222" stroke-width="0.22">Ly</text>
<text x="422.70" y="539.50" font-size="6.0" text-anchor="middle" fill="#222" stroke="#222" stroke-width="0.22">MkE</text>
<text x="437.80" y="539.50" font-size="6.0" text-anchor="middle" fill="#222" stroke="#222" stroke-width="0.22">GM</text>
<text x="450.00" y="539.50" font-size="6.0" text-anchor="middle" fill="#222" stroke="#222" stroke-width="0.22">Ly</text>
<text x="464.00" y="539.50" font-size="6.0" text-anchor="middle" fill="#222" stroke="#222" stroke-width="0.22">MkE</text>
<text x="464.00" y="546.80" font-size="6.0" text-anchor="middle" fill="#222" stroke="#222" stroke-width="0.22">GM</text>
<text x="479.00" y="539.50" font-size="6.0" text-anchor="middle" fill="#222" stroke="#222" stroke-width="0.22">MkE</text>
<text x="479.00" y="546.80" font-size="6.0" text-anchor="middle" fill="#222" stroke="#222" stroke-width="0.22">Ly</text>
<text x="491.80" y="539.50" font-size="6.0" text-anchor="middle" fill="#222" stroke="#222" stroke-width="0.22">GM</text>
<text x="491.80" y="546.80" font-size="6.0" text-anchor="middle" fill="#222" stroke="#222" stroke-width="0.22">Ly</text>
<text x="506.50" y="539.50" font-size="6.0" text-anchor="middle" fill="#222" stroke="#222" stroke-width="0.22">MkE</text>
<text x="506.50" y="546.80" font-size="6.0" text-anchor="middle" fill="#222" stroke="#222" stroke-width="0.22">GM</text>
<text x="506.50" y="554.10" font-size="6.0" text-anchor="middle" fill="#222" stroke="#222" stroke-width="0.22">Ly</text>
<line x1="364.90" y1="558.50" x2="412.00" y2="558.50" stroke="#909090" stroke-width="1.3"/>
<text x="389.60" y="567.20" font-size="7.3" text-anchor="middle" fill="#222" stroke="#222" stroke-width="0.22">Total</text>
<line x1="417.50" y1="558.50" x2="450.50" y2="558.50" stroke="#909090" stroke-width="1.3"/>
<text x="434.50" y="567.20" font-size="7.3" text-anchor="middle" fill="#222" stroke="#222" stroke-width="0.22">Uni -</text>
<text x="434.50" y="575.00" font-size="7.3" text-anchor="middle" fill="#222" stroke="#222" stroke-width="0.22">lineage</text>
<line x1="456.40" y1="558.50" x2="496.30" y2="558.50" stroke="#909090" stroke-width="1.3"/>
<text x="479.00" y="567.20" font-size="7.3" text-anchor="middle" fill="#222" stroke="#222" stroke-width="0.22">Bi -</text>
<text x="479.00" y="575.00" font-size="7.3" text-anchor="middle" fill="#222" stroke="#222" stroke-width="0.22">lineage</text>
<line x1="499.60" y1="558.50" x2="511.00" y2="558.50" stroke="#909090" stroke-width="1.3"/>
<text x="509.00" y="567.20" font-size="7.3" text-anchor="middle" fill="#222" stroke="#222" stroke-width="0.22">Multi -</text>
<text x="509.00" y="575.00" font-size="7.3" text-anchor="middle" fill="#222" stroke="#222" stroke-width="0.22">lineage</text>
<text x="347.84" y="496.20" font-size="8.5" text-anchor="middle" fill="#333" stroke="#333" stroke-width="0.22" transform="rotate(-90 347.84 496.20)">% of cells</text>
<clipPath id="cp1"><rect x="21.8" y="204.8" width="71.3" height="71.89999999999998"/></clipPath>
<g clip-path="url(#cp1)">
<path d="M55.80,206.80C56.53,203.67 57.63,206.30 60.00,206.20C62.37,206.10 67.00,206.12 70.00,206.20C73.00,206.28 75.80,206.33 78.00,206.70C80.20,207.07 81.95,207.35 83.20,208.40C84.45,209.45 85.02,210.73 85.50,213.00C85.98,215.27 85.97,218.83 86.10,222.00C86.23,225.17 86.37,229.00 86.30,232.00C86.23,235.00 86.15,237.73 85.70,240.00C85.25,242.27 84.72,244.07 83.60,245.60C82.48,247.13 80.77,248.30 79.00,249.20C77.23,250.10 75.50,250.60 73.00,251.00C70.50,251.40 66.63,251.63 64.00,251.60C61.37,251.57 58.58,251.90 57.20,250.80C55.82,249.70 55.97,249.30 55.70,245.00C55.43,240.70 55.58,231.37 55.60,225.00C55.62,218.63 55.07,209.93 55.80,206.80Z" fill="#0b0b0b" stroke="none" stroke-width="0.5" filter="url(#b1)"/>
<path d="M56.79,208.35C57.48,205.44 58.50,207.89 60.70,207.80C62.90,207.70 67.21,207.72 70.00,207.80C72.79,207.87 75.39,207.92 77.44,208.26C79.49,208.60 81.11,208.87 82.28,209.84C83.44,210.82 83.97,212.01 84.42,214.12C84.86,216.23 84.85,219.55 84.97,222.49C85.10,225.44 85.22,229.00 85.16,231.79C85.10,234.58 85.02,237.12 84.60,239.23C84.18,241.34 83.69,243.01 82.65,244.44C81.61,245.86 80.01,246.95 78.37,247.79C76.73,248.62 75.12,249.09 72.79,249.46C70.47,249.83 66.87,250.05 64.42,250.02C61.97,249.99 59.38,250.30 58.10,249.27C56.81,248.25 56.95,247.88 56.70,243.88C56.45,239.88 56.59,231.20 56.61,225.28C56.62,219.36 56.11,211.27 56.79,208.35Z" fill="#030303" stroke="none" stroke-width="0.5" filter="url(#b05)"/>
<path d="M74.8,226.6h0.6M79.6,208.4h0.6M79.5,239.8h0.6M84.6,213.0h0.6M74.8,208.0h0.6M82.8,223.2h0.6M81.6,224.3h0.6M84.3,234.5h0.6M76.0,225.8h0.6M84.9,244.7h0.6M85.3,208.8h0.6M85.2,217.1h0.6M76.0,212.8h0.6M77.4,205.7h0.6M79.1,222.1h0.6M82.2,208.1h0.6M74.7,205.5h0.6M75.3,220.6h0.6M85.4,231.0h0.6M80.1,225.6h0.6M84.8,212.2h0.6M86.4,227.4h0.6M81.1,206.6h0.6M86.7,241.3h0.6M77.4,220.7h0.6M86.8,240.9h0.6M84.6,236.2h0.6M80.7,220.3h0.6M83.0,245.2h0.6M78.7,214.6h0.6M85.7,240.4h0.6M82.5,238.7h0.6M83.8,225.3h0.6M86.6,221.9h0.6M86.3,235.6h0.6M86.7,232.8h0.6M81.1,210.9h0.6M86.6,232.5h0.6M84.7,214.3h0.6M77.4,222.9h0.6M85.8,220.2h0.6M81.6,243.0h0.6M85.9,226.3h0.6M80.8,206.3h0.6M81.2,238.0h0.6M81.3,215.8h0.6M83.9,243.4h0.6M85.4,244.6h0.6M74.9,215.5h0.6M83.4,206.3h0.6M79.7,206.3h0.6M82.1,226.8h0.6M75.4,216.5h0.6M84.1,216.7h0.6M81.4,234.6h0.6M77.1,210.0h0.6M80.5,212.9h0.6M74.2,215.9h0.6M83.5,228.4h0.6M80.2,244.3h0.6M84.6,223.4h0.6M84.8,221.8h0.6M82.9,246.3h0.6M79.3,219.9h0.6M77.3,212.3h0.6M84.9,241.6h0.6M78.0,220.3h0.6M76.6,226.4h0.6M74.5,206.4h0.6M85.4,221.7h0.6M86.8,211.7h0.6M84.6,211.3h0.6M82.9,234.3h0.6M77.3,208.6h0.6M86.7,226.0h0.6M82.0,232.2h0.6M78.0,229.1h0.6M83.0,233.5h0.6M75.5,242.6h0.6M86.7,244.4h0.6M79.8,216.6h0.6M86.3,214.2h0.6M85.5,234.7h0.6M85.7,225.7h0.6M78.1,240.4h0.6M83.8,240.3h0.6M87.0,230.0h0.6M79.6,216.9h0.6M86.2,215.8h0.6M86.4,242.2h0.6M81.1,235.4h0.6M82.4,217.4h0.6M86.0,210.8h0.6M86.7,216.3h0.6M76.2,212.2h0.6M85.8,226.1h0.6M85.8,246.9h0.6M75.8,213.5h0.6M78.4,209.3h0.6M83.7,222.6h0.6M85.2,214.5h0.6M85.6,225.1h0.6M77.2,210.0h0.6M79.9,228.4h0.6M82.4,218.1h0.6M81.6,221.6h0.6M81.8,205.9h0.6M85.5,225.2h0.6M82.8,222.9h0.6M82.7,243.9h0.6M83.6,226.5h0.6M82.6,244.9h0.6M75.8,207.7h0.6M83.7,206.8h0.6M76.2,205.6h0.6M78.6,245.2h0.6M86.5,214.1h0.6M84.7,239.6h0.6M86.0,213.5h0.6M85.7,206.8h0.6M84.6,237.3h0.6M78.1,216.9h0.6M86.3,206.5h0.6M80.4,244.0h0.6M84.0,230.7h0.6M77.2,208.2h0.6M85.5,246.5h0.6M83.2,224.0h0.6M82.5,246.6h0.6M85.9,207.2h0.6M81.6,244.1h0.6M85.3,224.1h0.6M84.1,244.7h0.6M81.7,231.2h0.6M78.8,211.4h0.6M76.6,206.0h0.6M82.8,213.2h0.6M81.2,232.0h0.6M85.5,224.6h0.6M85.8,209.2h0.6M78.8,226.4h0.6M86.6,213.7h0.6M86.3,246.0h0.6M80.7,221.4h0.6M74.5,240.3h0.6M84.1,224.5h0.6M80.2,209.9h0.6M78.9,245.0h0.6M84.6,211.5h0.6M86.0,214.1h0.6M80.6,218.7h0.6M82.8,242.7h0.6M84.2,210.3h0.6M79.1,238.6h0.6M86.9,229.5h0.6M83.9,223.9h0.6M81.6,233.0h0.6M74.0,206.9h0.6M85.6,211.0h0.6M82.5,206.4h0.6M78.6,209.9h0.6M85.3,238.0h0.6M77.2,243.0h0.6M80.9,222.3h0.6M74.8,237.8h0.6M81.2,244.5h0.6M82.3,239.3h0.6M78.0,218.0h0.6M85.6,238.0h0.6M76.9,209.9h0.6M84.2,227.2h0.6M82.3,245.6h0.6M85.4,206.1h0.6M83.1,241.1h0.6M83.4,229.2h0.6M76.8,231.3h0.6M85.8,211.5h0.6M75.8,206.7h0.6M83.6,208.2h0.6M85.9,244.7h0.6M76.7,210.1h0.6M85.0,239.2h0.6M84.7,231.7h0.6M83.3,220.8h0.6M82.0,206.8h0.6M83.2,227.8h0.6M76.2,205.6h0.6M83.9,246.1h0.6M84.2,231.6h0.6M75.1,242.4h0.6M78.5,219.1h0.6M81.5,210.7h0.6M85.5,215.4h0.6M76.0,212.0h0.6M78.2,227.2h0.6M84.3,235.9h0.6M76.6,232.0h0.6M76.7,221.6h0.6M83.6,243.2h0.6M81.5,236.6h0.6M78.1,231.6h0.6M82.8,244.1h0.6M82.5,237.8h0.6M80.4,245.9h0.6M86.2,227.0h0.6M78.6,207.8h0.6M79.2,206.1h0.6M86.2,227.4h0.6M84.4,221.8h0.6M85.1,216.6h0.6M82.2,206.1h0.6M86.4,232.7h0.6M75.3,211.4h0.6M84.1,219.9h0.6M85.8,238.4h0.6M85.5,228.5h0.6M74.8,224.9h0.6M84.9,221.1h0.6M86.5,208.6h0.6M82.9,244.2h0.6M86.8,226.7h0.6M85.7,206.9h0.6M84.0,214.2h0.6M81.1,207.6h0.6M80.0,237.2h0.6M85.9,232.7h0.6M84.7,238.1h0.6M86.1,207.8h0.6M86.2,246.2h0.6M76.8,211.8h0.6M74.1,233.9h0.6M85.1,235.8h0.6M83.3,206.0h0.6M82.5,239.4h0.6M78.0,235.8h0.6M85.2,225.7h0.6M86.3,238.1h0.6M83.1,239.8h0.6M77.7,205.6h0.6M84.6,241.5h0.6M82.9,243.4h0.6M80.0,214.1h0.6M83.8,238.4h0.6M85.5,227.2h0.6M81.7,213.3h0.6M78.5,227.1h0.6M80.3,229.0h0.6M77.3,207.1h0.6M76.3,209.0h0.6M86.3,243.3h0.6M81.8,222.0h0.6M86.5,216.2h0.6M79.1,224.1h0.6M86.6,246.7h0.6M82.4,246.4h0.6M83.9,209.9h0.6M76.2,215.4h0.6M85.6,211.3h0.6M82.2,224.3h0.6M75.9,214.7h0.6M83.3,228.5h0.6M85.3,216.6h0.6M78.1,243.0h0.6M86.0,209.5h0.6M85.7,207.9h0.6M77.8,246.1h0.6M84.5,219.6h0.6M76.8,229.2h0.6M76.6,208.8h0.6M81.9,226.1h0.6M84.6,229.7h0.6M80.2,241.7h0.6M84.6,241.4h0.6M76.9,213.1h0.6M77.3,239.4h0.6M80.8,234.7h0.6M85.3,235.3h0.6M84.1,219.5h0.6M85.0,207.7h0.6M86.5,244.3h0.6M80.9,208.4h0.6M80.6,206.4h0.6M85.5,206.9h0.6M86.4,217.4h0.6M86.4,226.8h0.6M80.1,227.7h0.6M84.0,212.1h0.6M85.3,223.8h0.6M83.6,211.9h0.6M85.0,239.6h0.6M80.5,223.9h0.6M86.5,214.0h0.6M85.8,205.9h0.6M80.8,209.6h0.6M85.4,245.5h0.6M84.7,226.8h0.6M86.9,242.4h0.6M80.6,213.3h0.6M82.2,230.5h0.6M86.9,231.9h0.6M79.3,238.2h0.6M83.0,205.7h0.6M87.0,229.3h0.6M75.4,209.7h0.6M84.5,208.1h0.6M78.6,212.5h0.6M86.5,223.7h0.6M80.3,238.4h0.6M86.6,217.6h0.6M79.2,208.2h0.6M84.7,220.1h0.6M76.0,234.8h0.6M77.5,240.2h0.6M78.9,245.3h0.6M86.4,226.5h0.6M76.8,241.7h0.6M80.7,228.0h0.6M78.2,233.0h0.6M77.9,208.2h0.6M75.7,217.0h0.6M82.8,233.0h0.6M82.2,213.0h0.6M74.5,207.2h0.6M82.9,220.0h0.6M84.8,237.7h0.6M74.6,215.6h0.6M75.7,237.1h0.6M83.1,238.9h0.6M81.1,215.9h0.6M78.7,222.6h0.6" stroke="#fff" stroke-width="0.60" stroke-opacity="0.8" fill="none"/>
<path d="M76.1,206.2h0.6M60.3,207.2h0.6M61.1,207.5h0.6M59.4,206.3h0.6M62.2,205.6h0.6M61.9,207.6h0.6M59.4,206.4h0.6M66.9,205.9h0.6M72.9,205.7h0.6M69.0,206.0h0.6M63.5,206.2h0.6M81.4,208.4h0.6M65.6,206.6h0.6M67.1,208.1h0.6M84.3,207.0h0.6M60.7,206.4h0.6M58.4,207.6h0.6M69.3,208.5h0.6M57.2,206.8h0.6M81.7,207.9h0.6M64.5,207.5h0.6M68.6,206.5h0.6M60.9,206.3h0.6M72.9,206.5h0.6M58.6,206.4h0.6M74.3,206.4h0.6M67.2,207.3h0.6M71.9,207.2h0.6M63.6,205.7h0.6M63.5,207.0h0.6M62.8,207.2h0.6M71.4,207.3h0.6M68.2,205.6h0.6M72.9,207.9h0.6M79.3,205.6h0.6M67.2,205.4h0.6M80.8,205.8h0.6M57.3,207.3h0.6M72.5,208.0h0.6M83.8,207.6h0.6M73.4,205.8h0.6M59.3,208.0h0.6M84.5,205.4h0.6M80.0,205.5h0.6M80.5,207.6h0.6M58.3,206.5h0.6M82.8,207.3h0.6M61.1,206.6h0.6M73.3,206.6h0.6M56.2,207.3h0.6M64.2,206.3h0.6M63.9,207.2h0.6M84.7,208.6h0.6M71.3,207.4h0.6M72.5,206.7h0.6M70.4,206.6h0.6M63.0,206.5h0.6M56.2,208.2h0.6M69.4,207.2h0.6M61.1,205.6h0.6M65.3,207.7h0.6M73.5,205.7h0.6M73.4,208.6h0.6M64.3,206.2h0.6M62.5,206.7h0.6M82.3,206.5h0.6M75.2,208.4h0.6M68.2,207.6h0.6M57.7,206.7h0.6M74.8,206.5h0.6" stroke="#fff" stroke-width="0.60" stroke-opacity="0.75" fill="none"/>
<path d="M74.5,246.8h0.6M56.2,254.6h0.6M84.7,257.4h0.6M57.5,254.6h0.6M75.0,247.1h0.6M58.7,253.1h0.6M60.7,253.7h0.6M58.6,255.2h0.6M81.2,250.5h0.6M74.2,249.2h0.6M73.1,250.2h0.6M66.1,253.1h0.6M78.9,246.2h0.6M79.6,253.0h0.6M80.0,248.5h0.6M86.3,252.0h0.6M69.9,248.3h0.6M85.2,250.3h0.6M59.9,254.1h0.6M76.2,246.6h0.6M80.0,254.7h0.6M62.9,259.0h0.6M79.4,246.7h0.6M60.0,249.4h0.6M57.7,255.1h0.6M61.5,248.7h0.6M85.1,246.6h0.6M61.3,250.6h0.6M78.8,248.3h0.6M56.7,250.7h0.6M80.1,246.3h0.6M71.4,260.1h0.6M75.6,251.0h0.6M70.2,254.1h0.6M65.9,249.7h0.6M78.7,247.1h0.6M57.8,252.1h0.6M82.8,248.9h0.6M57.7,253.6h0.6M84.5,246.8h0.6M85.3,247.1h0.6M63.7,250.6h0.6M64.0,251.3h0.6M62.1,249.9h0.6M79.5,248.2h0.6M86.8,247.6h0.6M62.6,250.9h0.6M82.7,246.4h0.6M82.9,246.0h0.6M81.5,253.1h0.6M64.6,250.7h0.6M83.6,249.7h0.6M60.8,251.3h0.6M69.9,252.9h0.6M73.9,249.0h0.6M83.4,247.2h0.6M67.0,249.4h0.6M61.5,257.6h0.6M82.8,249.1h0.6M56.6,249.5h0.6M59.3,249.6h0.6M84.2,245.1h0.6M60.5,249.0h0.6M61.1,250.8h0.6M77.1,249.7h0.6M84.5,247.2h0.6M78.2,255.4h0.6M56.8,258.0h0.6M63.1,250.2h0.6M57.0,256.1h0.6M71.5,247.6h0.6M59.1,253.9h0.6M56.4,253.4h0.6M83.2,245.4h0.6M59.6,251.4h0.6M69.2,247.6h0.6M61.4,249.7h0.6M78.8,248.2h0.6M71.4,250.3h0.6M71.3,249.8h0.6M84.5,246.8h0.6M86.0,247.3h0.6M83.4,245.6h0.6M61.3,252.3h0.6M64.1,249.5h0.6M71.7,247.6h0.6M68.5,251.6h0.6M56.1,251.0h0.6M77.3,249.4h0.6M72.9,251.5h0.6M77.3,255.4h0.6M78.2,247.0h0.6M68.3,249.5h0.6M86.2,249.0h0.6M67.9,251.2h0.6M60.3,251.9h0.6M86.9,250.8h0.6M84.7,245.1h0.6M63.7,251.7h0.6M63.3,251.2h0.6M62.0,255.1h0.6M80.3,251.5h0.6M84.1,251.7h0.6M65.9,250.1h0.6M76.0,250.1h0.6M86.1,245.9h0.6M55.8,249.7h0.6M71.7,256.0h0.6M74.3,249.9h0.6M75.4,246.5h0.6M79.0,251.1h0.6M68.1,252.6h0.6M72.2,252.2h0.6M65.9,252.4h0.6M75.4,249.5h0.6M74.9,247.3h0.6M64.1,252.6h0.6M78.3,248.8h0.6M72.1,250.1h0.6M60.2,249.3h0.6M84.7,250.4h0.6M72.3,247.9h0.6M81.2,245.7h0.6M81.4,248.3h0.6M70.2,252.7h0.6M83.7,251.7h0.6M82.9,249.5h0.6M81.8,246.6h0.6M81.3,247.4h0.6M63.6,250.1h0.6M59.0,254.2h0.6M72.1,253.4h0.6M69.9,251.2h0.6M86.9,247.0h0.6M77.5,251.0h0.6M80.7,247.2h0.6M79.5,249.8h0.6M67.2,253.3h0.6M72.0,247.3h0.6M66.4,252.2h0.6M67.7,250.7h0.6M73.6,247.0h0.6M57.6,252.4h0.6M64.4,254.8h0.6M65.9,248.4h0.6M58.6,257.8h0.6M75.6,248.3h0.6M69.0,249.8h0.6M80.5,248.8h0.6M57.2,252.3h0.6M69.6,252.2h0.6M65.0,253.4h0.6M68.5,252.5h0.6M66.8,254.5h0.6M67.8,256.8h0.6M61.8,253.5h0.6M86.1,245.7h0.6M76.6,250.5h0.6M66.1,254.9h0.6M67.6,251.0h0.6M72.2,256.8h0.6M79.4,246.0h0.6M56.6,253.7h0.6M70.2,250.0h0.6M82.0,249.8h0.6M83.6,247.7h0.6M69.5,252.8h0.6M81.5,245.7h0.6M76.7,246.5h0.6M57.1,254.0h0.6M77.0,253.6h0.6M79.8,248.3h0.6M59.5,249.3h0.6M81.3,247.3h0.6M59.0,255.6h0.6M73.4,250.8h0.6M57.5,252.3h0.6M70.9,253.7h0.6M57.5,251.0h0.6M74.0,251.1h0.6M86.9,248.4h0.6M60.3,257.3h0.6M66.2,248.4h0.6M86.6,244.7h0.6M64.4,248.5h0.6M63.8,252.2h0.6M82.6,250.4h0.6M68.9,249.3h0.6M57.4,252.4h0.6M80.8,254.2h0.6M82.5,245.4h0.6M57.4,252.4h0.6M72.5,250.5h0.6M71.1,250.8h0.6M74.0,252.1h0.6M62.0,254.7h0.6M84.5,246.3h0.6M65.6,248.5h0.6M72.4,251.9h0.6M65.9,251.1h0.6M64.3,249.3h0.6M78.0,249.6h0.6M80.8,249.8h0.6M85.0,247.6h0.6M69.7,248.5h0.6M69.3,248.5h0.6M75.7,255.1h0.6M58.0,251.9h0.6M74.4,251.0h0.6M73.3,256.1h0.6M80.8,252.4h0.6M76.9,246.2h0.6M65.0,250.2h0.6M60.3,257.3h0.6M84.4,245.5h0.6M58.8,251.1h0.6M80.3,250.2h0.6M76.4,247.7h0.6M63.8,254.1h0.6M60.6,252.7h0.6M57.6,249.7h0.6M81.9,246.6h0.6M65.0,248.7h0.6M65.7,254.0h0.6M73.3,252.5h0.6M65.9,256.3h0.6M82.0,250.1h0.6M86.4,251.4h0.6M68.0,252.0h0.6M75.8,247.3h0.6M62.8,250.4h0.6M70.3,247.8h0.6M78.5,252.2h0.6M59.4,251.9h0.6M81.6,252.9h0.6M86.9,251.8h0.6M85.1,248.6h0.6M66.7,248.4h0.6M79.2,256.4h0.6M58.7,249.3h0.6M70.9,251.2h0.6M72.7,251.5h0.6M58.6,251.4h0.6M83.7,247.9h0.6M82.2,246.8h0.6M56.8,259.7h0.6M74.5,250.7h0.6M85.3,245.7h0.6M76.3,250.2h0.6M69.8,248.6h0.6M63.5,248.4h0.6M80.4,248.5h0.6M65.1,253.4h0.6M58.8,251.5h0.6M73.0,248.2h0.6M70.2,253.2h0.6M56.9,251.4h0.6M76.0,246.5h0.6M59.9,252.7h0.6M67.5,249.7h0.6M76.5,247.7h0.6M85.2,247.2h0.6M66.1,253.0h0.6M70.8,255.0h0.6M60.4,256.6h0.6M59.5,254.2h0.6M71.3,249.3h0.6M70.4,247.7h0.6M60.9,254.0h0.6M67.2,248.9h0.6M62.0,251.1h0.6M59.8,250.7h0.6M63.3,252.1h0.6M83.6,249.0h0.6M56.3,254.4h0.6M80.5,247.4h0.6M73.6,247.9h0.6M79.2,248.9h0.6M60.6,248.9h0.6M68.1,248.7h0.6M72.0,249.5h0.6M58.4,258.5h0.6M73.8,247.3h0.6M80.3,251.8h0.6M78.0,249.2h0.6M74.5,247.9h0.6M86.5,250.8h0.6M77.4,247.7h0.6M81.2,250.1h0.6M70.2,254.3h0.6M84.5,255.8h0.6M68.7,248.2h0.6M68.5,250.4h0.6M78.7,247.7h0.6M77.0,248.6h0.6M60.2,252.3h0.6M62.0,249.3h0.6M86.3,248.7h0.6M86.9,245.9h0.6M71.3,252.1h0.6M80.1,252.1h0.6M75.7,250.5h0.6M62.0,254.8h0.6M80.3,251.9h0.6M58.7,249.9h0.6M60.9,252.9h0.6M85.9,248.3h0.6M60.0,255.6h0.6M81.6,254.6h0.6M79.0,249.7h0.6M81.8,247.4h0.6M69.4,253.2h0.6M81.5,247.4h0.6M65.1,257.1h0.6M85.8,255.6h0.6M59.4,251.2h0.6M86.0,245.5h0.6M82.0,248.8h0.6M63.0,250.0h0.6M63.2,253.2h0.6M71.2,252.9h0.6M78.0,249.8h0.6M68.0,249.3h0.6M77.1,254.1h0.6M85.2,247.0h0.6M58.5,253.3h0.6M76.2,248.4h0.6M74.4,250.2h0.6M81.9,245.5h0.6M71.1,247.5h0.6M56.3,255.9h0.6M68.9,252.8h0.6M74.7,250.5h0.6M62.5,249.6h0.6M66.8,251.3h0.6M64.9,253.4h0.6M58.5,250.0h0.6M69.6,254.4h0.6M76.4,247.1h0.6M77.1,248.3h0.6M57.1,250.6h0.6M64.3,250.8h0.6M85.7,246.9h0.6M83.6,247.6h0.6M74.8,250.1h0.6M71.4,249.9h0.6M85.6,258.5h0.6M61.7,249.2h0.6M81.7,248.3h0.6M55.8,254.3h0.6M61.3,253.4h0.6M81.1,247.2h0.6M63.6,249.6h0.6M73.0,248.5h0.6M82.7,249.7h0.6M84.8,245.3h0.6M83.7,246.0h0.6M75.3,248.0h0.6M69.7,251.5h0.6M76.4,247.4h0.6M75.5,250.4h0.6M76.9,250.1h0.6M84.1,249.4h0.6M86.3,244.7h0.6M57.6,252.8h0.6M73.2,252.8h0.6M69.8,247.4h0.6M78.5,255.6h0.6M79.2,249.8h0.6M60.1,249.7h0.6M85.5,246.8h0.6M74.1,248.2h0.6M73.8,251.0h0.6M79.1,247.1h0.6M75.8,247.8h0.6M64.9,255.7h0.6M72.8,258.0h0.6M76.0,252.4h0.6M80.9,247.5h0.6M85.8,248.8h0.6M77.9,247.3h0.6M60.9,252.2h0.6M73.7,250.4h0.6M66.6,255.1h0.6M60.2,258.2h0.6M60.9,249.7h0.6M78.8,247.7h0.6M57.5,252.8h0.6M65.1,257.0h0.6M85.8,252.8h0.6M61.6,252.6h0.6M62.0,258.8h0.6M65.8,250.0h0.6M63.9,249.1h0.6M68.1,256.5h0.6M64.1,256.0h0.6M62.2,252.7h0.6M81.9,248.1h0.6M75.7,247.1h0.6M60.5,252.7h0.6M79.4,251.5h0.6M76.7,247.3h0.6M79.3,246.5h0.6M84.4,249.3h0.6M72.3,248.4h0.6M63.9,254.5h0.6M79.9,254.0h0.6M73.5,248.9h0.6M66.8,251.1h0.6M63.4,249.6h0.6M58.0,256.5h0.6M77.0,248.5h0.6M68.7,248.3h0.6M65.4,250.1h0.6M75.9,252.7h0.6M77.4,247.4h0.6M80.0,254.3h0.6M79.0,252.5h0.6M66.5,254.3h0.6M66.7,253.0h0.6M61.6,252.5h0.6M72.1,251.0h0.6M76.7,248.2h0.6M66.4,249.3h0.6M57.9,253.8h0.6M82.4,248.1h0.6M76.6,250.3h0.6M73.7,248.9h0.6M64.3,252.7h0.6M82.0,252.1h0.6M60.5,252.4h0.6M71.4,253.8h0.6M83.8,251.1h0.6M81.4,249.9h0.6M76.0,248.1h0.6M77.8,247.7h0.6M77.8,248.8h0.6M57.9,251.6h0.6M74.6,248.2h0.6M62.4,251.7h0.6M62.8,254.2h0.6M86.2,248.5h0.6M80.8,250.1h0.6M58.1,254.7h0.6M82.0,245.5h0.6M75.4,246.7h0.6M60.1,249.1h0.6M69.7,248.9h0.6M73.1,247.2h0.6M81.6,246.6h0.6M59.2,250.0h0.6M66.4,254.2h0.6M66.1,250.8h0.6M80.6,246.9h0.6M62.3,252.9h0.6M72.6,253.9h0.6M56.8,249.6h0.6M71.5,248.1h0.6M69.0,253.4h0.6M78.4,248.4h0.6M74.0,251.1h0.6M74.2,249.8h0.6M62.9,258.6h0.6M80.9,256.7h0.6M85.8,251.2h0.6M58.0,261.0h0.6M70.7,250.5h0.6M77.1,249.9h0.6M77.9,250.0h0.6M61.7,249.8h0.6M68.4,248.1h0.6M78.8,248.8h0.6M71.9,249.8h0.6M77.8,247.2h0.6M61.9,249.1h0.6M77.7,251.9h0.6M86.2,244.8h0.6M84.5,256.1h0.6M78.3,246.2h0.6M62.2,250.1h0.6M56.2,254.3h0.6M75.5,252.0h0.6M64.0,249.9h0.6M75.5,248.5h0.6M86.7,245.1h0.6M61.3,250.0h0.6M66.9,254.5h0.6M70.0,252.2h0.6M59.0,251.1h0.6M80.1,247.3h0.6M70.5,257.3h0.6M80.6,246.2h0.6M70.7,248.2h0.6M59.2,251.2h0.6M73.4,249.9h0.6M63.7,248.4h0.6M56.5,255.5h0.6M85.3,248.7h0.6M86.4,251.5h0.6M67.8,250.5h0.6M81.1,246.8h0.6M56.2,251.5h0.6M62.5,252.3h0.6M56.1,251.8h0.6M81.7,246.5h0.6M57.1,254.3h0.6M83.5,246.8h0.6M65.9,248.3h0.6M75.3,250.4h0.6M75.8,249.8h0.6M62.2,248.9h0.6M67.7,257.6h0.6M59.0,251.0h0.6M62.0,249.8h0.6M70.0,252.9h0.6M77.9,249.4h0.6M69.5,254.1h0.6M57.5,252.3h0.6M70.5,252.8h0.6M78.1,250.0h0.6M63.3,252.5h0.6M70.5,252.9h0.6M60.2,254.1h0.6M57.8,252.6h0.6M63.2,251.6h0.6M68.0,247.8h0.6M80.4,248.5h0.6M78.9,251.7h0.6M57.0,259.8h0.6M80.8,252.5h0.6M57.0,252.6h0.6M84.8,245.9h0.6M62.7,253.4h0.6M75.7,255.7h0.6M84.5,245.2h0.6M56.4,252.1h0.6M79.4,255.6h0.6M78.0,253.5h0.6M61.6,249.6h0.6M71.8,249.5h0.6M59.1,251.2h0.6M84.4,254.4h0.6M55.9,253.0h0.6M81.4,250.1h0.6M71.5,251.5h0.6M80.7,249.8h0.6M58.2,254.6h0.6M64.9,250.0h0.6M68.2,255.1h0.6M56.6,249.8h0.6M81.7,247.3h0.6M59.6,253.6h0.6M76.1,247.6h0.6M59.2,253.7h0.6M86.3,248.8h0.6M58.7,250.3h0.6M78.6,251.1h0.6M59.0,256.3h0.6M67.3,250.2h0.6M60.4,256.2h0.6M74.7,254.3h0.6M56.0,250.6h0.6M58.1,254.5h0.6M74.5,251.2h0.6M72.0,251.5h0.6M74.9,247.8h0.6M76.0,252.8h0.6M80.7,249.3h0.6M84.3,248.8h0.6M56.8,255.6h0.6M77.0,249.0h0.6M83.2,249.1h0.6M61.4,253.3h0.6M77.8,247.8h0.6M63.7,249.6h0.6M65.9,252.0h0.6M58.8,261.2h0.6M76.2,250.8h0.6M84.9,245.6h0.6M86.8,253.3h0.6M79.3,246.3h0.6M68.7,250.9h0.6M56.5,250.6h0.6M84.5,254.5h0.6M66.1,248.9h0.6M83.6,253.0h0.6M80.6,247.7h0.6M81.6,245.8h0.6M65.6,251.0h0.6M72.6,250.0h0.6M85.9,247.7h0.6M76.1,251.1h0.6M72.6,251.2h0.6M84.3,246.8h0.6M77.3,248.0h0.6M62.4,248.9h0.6M64.8,248.7h0.6M63.9,248.7h0.6M78.1,248.8h0.6M69.5,247.5h0.6M77.2,248.9h0.6M79.3,252.9h0.6M63.6,248.3h0.6M77.4,247.2h0.6M62.3,249.2h0.6M75.9,258.2h0.6M74.2,250.0h0.6M77.5,251.2h0.6M65.3,249.6h0.6M56.3,250.1h0.6M67.1,249.1h0.6M71.2,248.8h0.6M86.0,246.1h0.6M79.8,249.1h0.6M61.4,251.8h0.6M68.6,249.8h0.6M77.3,253.1h0.6M58.8,251.6h0.6M84.9,249.6h0.6M56.8,256.6h0.6" stroke="#151515" stroke-width="0.60" stroke-opacity="0.72" fill="none"/>
<path d="M78.5,258.1h0.6M78.2,266.8h0.6M63.6,258.4h0.6M72.0,273.6h0.6M57.0,263.9h0.6M71.6,270.0h0.6M60.0,264.8h0.6M63.8,263.9h0.6M87.8,266.5h0.6M63.2,255.9h0.6M58.5,264.2h0.6M62.1,254.2h0.6M73.5,254.6h0.6M81.2,266.1h0.6M86.7,258.1h0.6M76.3,274.3h0.6M63.4,254.8h0.6M56.8,262.4h0.6M84.2,254.0h0.6M80.2,257.1h0.6M60.1,275.6h0.6M86.1,255.3h0.6M88.0,263.2h0.6M87.1,256.3h0.6M73.4,256.6h0.6M62.2,269.6h0.6M83.2,254.2h0.6M60.3,259.0h0.6M65.0,254.8h0.6M69.8,263.5h0.6M62.0,264.8h0.6M79.0,257.6h0.6M76.0,258.5h0.6M58.4,254.1h0.6M79.7,254.1h0.6M89.0,257.3h0.6M73.8,261.2h0.6M72.3,259.8h0.6M58.9,257.7h0.6M75.1,255.2h0.6M59.2,267.2h0.6M63.9,256.1h0.6M75.2,257.1h0.6M75.8,256.4h0.6M64.2,259.8h0.6M74.1,270.3h0.6M80.6,259.0h0.6M86.7,258.6h0.6M78.5,259.9h0.6M57.9,267.7h0.6M57.7,265.6h0.6M62.7,256.7h0.6M74.0,271.4h0.6M64.6,269.0h0.6M86.9,256.9h0.6M77.1,260.7h0.6M58.9,262.9h0.6M88.8,255.2h0.6M82.1,257.0h0.6M58.4,257.7h0.6M84.3,257.8h0.6M82.0,263.6h0.6M88.5,267.6h0.6M64.4,259.7h0.6M67.6,258.2h0.6M68.4,262.4h0.6M68.9,256.5h0.6M84.5,257.0h0.6M79.0,268.7h0.6M85.6,258.8h0.6M64.5,256.3h0.6M85.7,266.9h0.6M78.6,258.7h0.6M60.2,274.6h0.6M70.6,256.1h0.6M87.6,258.5h0.6M67.2,270.5h0.6M75.1,271.9h0.6M63.1,254.5h0.6M70.4,267.5h0.6M71.9,256.1h0.6M64.1,259.8h0.6M79.0,257.2h0.6M82.1,259.5h0.6M66.3,257.6h0.6M58.9,258.3h0.6M73.2,258.1h0.6M88.1,264.6h0.6M76.1,257.3h0.6M69.7,262.0h0.6M69.7,263.7h0.6M88.3,257.3h0.6M74.7,263.1h0.6M77.7,264.7h0.6M64.9,262.3h0.6M61.4,269.5h0.6M61.0,259.1h0.6M85.2,262.7h0.6M89.2,254.9h0.6M60.2,254.5h0.6M77.4,256.5h0.6M70.8,262.8h0.6M80.0,257.9h0.6M76.4,261.6h0.6M75.1,257.2h0.6M69.0,269.5h0.6M65.4,274.8h0.6M87.6,271.0h0.6M59.0,271.5h0.6M80.8,268.6h0.6M72.8,270.2h0.6M78.2,260.3h0.6M60.0,270.9h0.6M74.4,270.7h0.6M77.7,262.5h0.6M83.7,254.7h0.6M87.7,258.2h0.6M83.7,256.7h0.6M73.0,261.6h0.6M85.1,264.0h0.6M81.3,259.2h0.6M69.8,257.8h0.6M72.0,265.1h0.6M69.1,266.3h0.6M57.0,258.6h0.6M64.3,275.9h0.6M56.3,266.4h0.6M56.1,255.1h0.6M76.0,272.5h0.6M85.9,265.6h0.6" stroke="#666" stroke-width="0.60" stroke-opacity="0.6" fill="none"/>
<path d="M87.1,238.8h0.5M88.5,234.8h0.5M88.8,230.3h0.5M89.2,217.2h0.5M88.4,230.7h0.5M88.3,206.7h0.5M87.5,242.3h0.5M87.0,227.0h0.5M87.7,239.7h0.5M88.6,242.7h0.5M87.3,209.1h0.5M89.3,216.8h0.5M88.7,224.9h0.5M87.0,228.3h0.5M88.0,235.1h0.5M89.2,206.2h0.5M87.9,214.7h0.5M88.7,249.7h0.5M87.5,235.5h0.5M87.9,236.3h0.5M89.5,246.5h0.5M88.2,227.5h0.5M88.1,212.2h0.5M88.4,249.0h0.5M88.7,241.2h0.5M87.8,237.3h0.5M89.4,225.3h0.5M88.7,211.1h0.5M88.6,206.2h0.5M87.3,228.8h0.5" stroke="#444" stroke-width="0.50" stroke-opacity="0.5" fill="none"/>
<path d="M57.20,215.20C57.38,212.90 57.22,213.82 57.60,213.20C57.98,212.58 58.77,211.60 59.50,211.50C60.23,211.40 61.13,211.92 62.00,212.60C62.87,213.28 63.60,214.47 64.70,215.60C65.80,216.73 67.02,218.53 68.60,219.40C70.18,220.27 72.25,220.48 74.20,220.80C76.15,221.12 78.72,220.85 80.30,221.30C81.88,221.75 82.93,222.58 83.70,223.50C84.47,224.42 85.00,225.73 84.90,226.80C84.80,227.87 84.17,229.17 83.10,229.90C82.03,230.63 80.03,230.78 78.50,231.20C76.97,231.62 74.82,231.83 73.90,232.40C72.98,232.97 73.07,233.52 73.00,234.60C72.93,235.68 73.65,237.57 73.50,238.90C73.35,240.23 72.92,241.52 72.10,242.60C71.28,243.68 70.35,244.57 68.60,245.40C66.85,246.23 63.40,247.40 61.60,247.60C59.80,247.80 58.63,247.83 57.80,246.60C56.97,245.37 56.82,243.47 56.60,240.20C56.38,236.93 56.40,231.17 56.50,227.00C56.60,222.83 57.02,217.50 57.20,215.20Z" fill="#fff" stroke="#222" stroke-width="0.55"/>
<path d="M59.94,217.64C60.07,216.28 60.18,216.57 60.42,216.20C60.66,215.83 60.95,215.40 61.38,215.40C61.81,215.40 62.37,215.69 62.98,216.20C63.59,216.71 64.18,217.56 65.06,218.44C65.94,219.32 66.95,220.79 68.26,221.48C69.57,222.17 71.33,222.35 72.90,222.60C74.47,222.85 76.51,222.68 77.70,223.00C78.89,223.32 79.50,223.92 80.02,224.52C80.54,225.12 80.89,225.93 80.82,226.60C80.75,227.27 80.38,228.05 79.62,228.52C78.86,228.99 77.49,229.08 76.26,229.40C75.03,229.72 73.89,230.16 72.26,230.44C70.63,230.72 68.53,230.97 66.50,231.08C64.47,231.19 61.25,232.20 60.10,231.08C58.95,229.96 59.65,226.60 59.62,224.36C59.59,222.12 59.81,219.00 59.94,217.64Z" fill="none" stroke="#808080" stroke-width="0.4"/>
<path d="M62.08,219.68C62.18,218.66 62.26,218.88 62.44,218.60C62.62,218.32 62.84,218.00 63.16,218.00C63.48,218.00 63.90,218.22 64.36,218.60C64.82,218.98 65.26,219.62 65.92,220.28C66.58,220.94 67.34,222.04 68.32,222.56C69.30,223.08 70.62,223.21 71.80,223.40C72.98,223.59 74.51,223.46 75.40,223.70C76.29,223.94 76.75,224.39 77.14,224.84C77.53,225.29 77.79,225.90 77.74,226.40C77.69,226.90 77.41,227.49 76.84,227.84C76.27,228.19 75.24,228.26 74.32,228.50C73.40,228.74 72.54,229.07 71.32,229.28C70.10,229.49 68.52,229.68 67.00,229.76C65.48,229.84 63.06,230.60 62.20,229.76C61.34,228.92 61.86,226.40 61.84,224.72C61.82,223.04 61.98,220.70 62.08,219.68Z" fill="none" stroke="#808080" stroke-width="0.4"/>
<path d="M64.01,221.52C64.08,220.80 64.13,220.96 64.26,220.76C64.38,220.56 64.54,220.34 64.76,220.34C64.99,220.34 65.28,220.49 65.60,220.76C65.92,221.03 66.23,221.47 66.69,221.94C67.16,222.40 67.69,223.17 68.37,223.53C69.06,223.90 69.98,223.99 70.81,224.12C71.64,224.25 72.71,224.16 73.33,224.33C73.95,224.50 74.28,224.81 74.55,225.13C74.82,225.44 75.00,225.87 74.97,226.22C74.93,226.57 74.74,226.98 74.34,227.23C73.94,227.47 73.22,227.52 72.57,227.69C71.93,227.86 71.33,228.09 70.47,228.24C69.62,228.38 68.51,228.52 67.45,228.57C66.39,228.63 64.69,229.16 64.09,228.57C63.49,227.98 63.85,226.22 63.84,225.04C63.82,223.87 63.94,222.23 64.01,221.52Z" fill="none" stroke="#808080" stroke-width="0.4"/>
<path d="M65.93,223.35C65.97,222.94 66.00,223.03 66.08,222.92C66.15,222.81 66.24,222.68 66.36,222.68C66.49,222.68 66.66,222.77 66.84,222.92C67.03,223.07 67.20,223.33 67.47,223.59C67.73,223.86 68.04,224.30 68.43,224.50C68.82,224.71 69.35,224.76 69.82,224.84C70.29,224.92 70.90,224.86 71.26,224.96C71.62,225.06 71.80,225.24 71.96,225.42C72.11,225.60 72.22,225.84 72.20,226.04C72.18,226.24 72.06,226.48 71.84,226.62C71.61,226.76 71.20,226.78 70.83,226.88C70.46,226.98 70.12,227.11 69.63,227.19C69.14,227.28 68.51,227.35 67.90,227.38C67.29,227.42 66.32,227.72 65.98,227.38C65.64,227.05 65.84,226.04 65.84,225.37C65.83,224.70 65.89,223.76 65.93,223.35Z" fill="none" stroke="#808080" stroke-width="0.4"/>
<path d="M59.40,220.05C59.48,219.20 59.55,219.38 59.70,219.15C59.85,218.92 60.03,218.65 60.30,218.65C60.57,218.65 60.92,218.83 61.30,219.15C61.68,219.47 62.05,220.00 62.60,220.55C63.15,221.10 63.78,222.02 64.60,222.45C65.42,222.88 66.52,222.99 67.50,223.15C68.48,223.31 69.76,223.20 70.50,223.40C71.24,223.60 71.62,223.97 71.95,224.35C72.28,224.72 72.49,225.23 72.45,225.65C72.41,226.07 72.18,226.56 71.70,226.85C71.22,227.14 70.37,227.20 69.60,227.40C68.83,227.60 68.12,227.88 67.10,228.05C66.08,228.23 64.77,228.38 63.50,228.45C62.23,228.52 60.22,229.15 59.50,228.45C58.78,227.75 59.22,225.65 59.20,224.25C59.18,222.85 59.32,220.90 59.40,220.05Z" fill="none" stroke="#999" stroke-width="0.4"/>
<path d="M58.52,235.44C59.42,234.64 61.93,235.33 63.93,235.36C65.92,235.39 69.34,235.02 70.49,235.61C71.64,236.20 70.93,237.90 70.82,238.89C70.71,239.87 70.43,240.72 69.83,241.51C69.23,242.30 68.49,242.99 67.21,243.64C65.92,244.30 63.41,245.28 62.12,245.45C60.84,245.61 60.10,245.50 59.50,244.63C58.90,243.75 58.68,241.73 58.52,240.20C58.35,238.67 57.61,236.25 58.52,235.44Z" fill="none" stroke="#808080" stroke-width="0.4"/>
<path d="M60.00,236.84C60.64,236.27 62.42,236.76 63.83,236.78C65.24,236.80 67.66,236.54 68.47,236.95C69.28,237.37 68.78,238.58 68.70,239.27C68.63,239.97 68.43,240.57 68.01,241.13C67.58,241.69 67.06,242.17 66.15,242.64C65.24,243.10 63.46,243.80 62.56,243.91C61.65,244.03 61.13,243.95 60.70,243.33C60.27,242.71 60.12,241.28 60.00,240.20C59.89,239.12 59.37,237.41 60.00,236.84Z" fill="none" stroke="#808080" stroke-width="0.4"/>
<path d="M61.37,238.11C61.76,237.76 62.87,238.06 63.74,238.08C64.62,238.09 66.12,237.93 66.62,238.18C67.13,238.44 66.82,239.19 66.77,239.62C66.72,240.06 66.60,240.43 66.34,240.78C66.07,241.12 65.75,241.42 65.18,241.71C64.62,242.00 63.52,242.43 62.95,242.50C62.39,242.58 62.06,242.53 61.80,242.14C61.54,241.76 61.44,240.87 61.37,240.20C61.30,239.53 60.97,238.47 61.37,238.11Z" fill="none" stroke="#808080" stroke-width="0.4"/>
<path d="M62.48,239.16C62.68,238.98 63.23,239.13 63.67,239.14C64.11,239.14 64.86,239.06 65.11,239.19C65.36,239.32 65.21,239.70 65.18,239.91C65.16,240.13 65.10,240.31 64.97,240.49C64.84,240.66 64.67,240.81 64.39,240.96C64.11,241.10 63.56,241.32 63.28,241.35C62.99,241.39 62.83,241.36 62.70,241.17C62.57,240.98 62.52,240.54 62.48,240.20C62.45,239.86 62.29,239.33 62.48,239.16Z" fill="none" stroke="#808080" stroke-width="0.4"/>
<rect x="56.8" y="217" width="3.2" height="29" fill="#777" opacity="0.32" filter="url(#b05)"/>
</g>
<rect x="21.80" y="204.80" width="71.30" height="71.90" fill="none" stroke="#707070" stroke-width="0.75"/>
<line x1="54.40" y1="204.80" x2="54.40" y2="276.70" stroke="#333" stroke-width="0.8"/>
<line x1="86.30" y1="204.80" x2="86.30" y2="276.70" stroke="#444" stroke-width="0.7"/>
<line x1="54.40" y1="233.30" x2="72.80" y2="233.30" stroke="#222" stroke-width="0.7"/>
<text x="15.00" y="213.30" font-size="4.3" text-anchor="middle" fill="#444">10<tspan dy="-1.6" font-size="2.67">5</tspan></text>
<line x1="20.60" y1="211.80" x2="21.80" y2="211.80" stroke="#707070" stroke-width="0.5"/>
<text x="15.00" y="227.80" font-size="4.3" text-anchor="middle" fill="#444">10<tspan dy="-1.6" font-size="2.67">4</tspan></text>
<line x1="20.60" y1="226.30" x2="21.80" y2="226.30" stroke="#707070" stroke-width="0.5"/>
<text x="15.00" y="242.30" font-size="4.3" text-anchor="middle" fill="#444">10<tspan dy="-1.6" font-size="2.67">3</tspan></text>
<line x1="20.60" y1="240.80" x2="21.80" y2="240.80" stroke="#707070" stroke-width="0.5"/>
<text x="15.00" y="256.70" font-size="4.3" text-anchor="middle" fill="#444">10<tspan dy="-1.6" font-size="2.67">2</tspan></text>
<line x1="20.60" y1="255.20" x2="21.80" y2="255.20" stroke="#707070" stroke-width="0.5"/>
<text x="15.00" y="271.20" font-size="4.3" text-anchor="middle" fill="#444">10<tspan dy="-1.6" font-size="2.67">1</tspan></text>
<line x1="20.60" y1="269.70" x2="21.80" y2="269.70" stroke="#707070" stroke-width="0.5"/>
<line x1="30.00" y1="276.70" x2="30.00" y2="277.90" stroke="#707070" stroke-width="0.5"/>
<line x1="38.00" y1="276.70" x2="38.00" y2="277.90" stroke="#707070" stroke-width="0.5"/>
<line x1="46.00" y1="276.70" x2="46.00" y2="277.90" stroke="#707070" stroke-width="0.5"/>
<line x1="54.00" y1="276.70" x2="54.00" y2="277.90" stroke="#707070" stroke-width="0.5"/>
<line x1="62.00" y1="276.70" x2="62.00" y2="277.90" stroke="#707070" stroke-width="0.5"/>
<line x1="70.00" y1="276.70" x2="70.00" y2="277.90" stroke="#707070" stroke-width="0.5"/>
<line x1="78.00" y1="276.70" x2="78.00" y2="277.90" stroke="#707070" stroke-width="0.5"/>
<line x1="86.00" y1="276.70" x2="86.00" y2="277.90" stroke="#707070" stroke-width="0.5"/>
<text x="7.74" y="240.30" font-size="8.5" text-anchor="middle" fill="#333" stroke="#333" stroke-width="0.1" transform="rotate(-90 7.74 240.30)">Lin/7-AAD</text>
<text x="59.90" y="290.45" font-size="8.8" text-anchor="middle" fill="#333" stroke="#333" stroke-width="0.1">FSC</text>
<line x1="80.00" y1="268.30" x2="102.00" y2="268.30" stroke="#444" stroke-width="0.55"/>
<path d="M107.0,268.3 L101.0,265.8 L101.0,270.8 Z" fill="#111"/>
<clipPath id="cp2"><rect x="129.1" y="204.4" width="72.80000000000001" height="72.6"/></clipPath>
<g clip-path="url(#cp2)">
<path d="M153.6,237.5h0.6M171.9,228.0h0.6M165.7,245.7h0.6M186.0,246.6h0.6M150.2,239.3h0.6M144.5,242.5h0.6M151.4,236.6h0.6M182.5,227.1h0.6M175.4,257.7h0.6M133.4,236.7h0.6M182.8,244.7h0.6M148.7,244.7h0.6M161.1,240.5h0.6M161.1,239.0h0.6M174.6,225.9h0.6M178.2,252.5h0.6M146.0,250.9h0.6M176.0,251.9h0.6M137.9,227.4h0.6M164.0,276.2h0.6M157.3,264.4h0.6M148.0,261.4h0.6M144.5,214.1h0.6M135.6,237.2h0.6M166.7,275.9h0.6M166.3,245.1h0.6M155.1,235.1h0.6M170.1,231.9h0.6M198.7,237.3h0.6M176.9,247.5h0.6M153.0,267.2h0.6M159.5,274.3h0.6M177.5,242.1h0.6M146.0,263.8h0.6M178.8,256.6h0.6M163.5,226.4h0.6M176.1,257.7h0.6M141.5,246.1h0.6M174.0,222.5h0.6M185.9,250.0h0.6M161.3,266.3h0.6M136.8,252.5h0.6M148.5,267.3h0.6M189.4,246.8h0.6M143.8,270.6h0.6M130.9,235.2h0.6M134.3,253.3h0.6M140.7,232.4h0.6M182.4,228.3h0.6M162.9,263.5h0.6M143.4,274.3h0.6M183.4,266.4h0.6M179.7,239.0h0.6M166.2,245.6h0.6M155.1,227.2h0.6M182.5,255.5h0.6M163.4,245.9h0.6M143.4,259.5h0.6M175.4,244.4h0.6M171.2,227.7h0.6M129.1,264.3h0.6M178.2,274.0h0.6M136.4,240.0h0.6M157.3,223.4h0.6M168.3,241.7h0.6M170.6,247.9h0.6M145.7,250.1h0.6M156.1,244.2h0.6M176.0,257.6h0.6M169.2,260.2h0.6M190.2,268.8h0.6M147.1,219.3h0.6M135.3,244.8h0.6M150.9,243.1h0.6M186.6,259.5h0.6M201.7,227.2h0.6M157.6,233.7h0.6M163.7,225.2h0.6M169.9,243.1h0.6M176.9,255.4h0.6M161.2,234.5h0.6M149.9,263.8h0.6M168.8,264.9h0.6M142.1,238.9h0.6M152.5,254.7h0.6M157.7,261.6h0.6M184.7,231.4h0.6M130.4,237.7h0.6M163.6,215.0h0.6M145.2,219.1h0.6M143.2,246.6h0.6M188.9,240.3h0.6M146.6,266.9h0.6M158.8,251.7h0.6M171.9,259.4h0.6M165.3,225.8h0.6M149.6,250.9h0.6M149.1,254.5h0.6M187.5,245.2h0.6M137.4,246.1h0.6M181.5,237.6h0.6M188.1,249.2h0.6M156.3,257.9h0.6M176.5,239.3h0.6M163.0,266.9h0.6M186.5,243.9h0.6M190.7,256.2h0.6M140.4,249.8h0.6M153.6,220.5h0.6M153.0,267.5h0.6M148.5,238.9h0.6M160.8,237.9h0.6M191.9,237.6h0.6M171.5,245.8h0.6M148.4,239.1h0.6M188.3,249.7h0.6M196.7,237.4h0.6M184.5,234.0h0.6M174.2,265.0h0.6M178.9,270.2h0.6M138.9,245.1h0.6M186.9,253.8h0.6M146.4,233.2h0.6M157.8,254.7h0.6M143.8,235.1h0.6M129.9,238.2h0.6M156.4,245.0h0.6M174.0,234.9h0.6M170.3,276.5h0.6M162.6,248.8h0.6M146.4,238.0h0.6M152.8,251.0h0.6M166.7,238.3h0.6M185.5,272.9h0.6M140.9,267.0h0.6M169.0,272.5h0.6M153.1,223.8h0.6M151.2,258.1h0.6M149.1,229.9h0.6M146.7,257.9h0.6M151.4,220.2h0.6M193.2,224.2h0.6M131.3,235.5h0.6M167.8,258.1h0.6M157.1,232.5h0.6M164.1,238.1h0.6M194.1,237.7h0.6M150.0,242.1h0.6M163.9,274.8h0.6M159.2,276.4h0.6M163.2,239.9h0.6M187.4,260.0h0.6M159.3,250.3h0.6M159.2,236.1h0.6M168.6,240.8h0.6M152.0,245.1h0.6M167.9,216.7h0.6M177.7,257.4h0.6M149.4,242.1h0.6M162.1,259.1h0.6M157.7,249.4h0.6M145.8,267.1h0.6M181.5,233.0h0.6M154.5,261.9h0.6M131.2,248.4h0.6M185.2,233.8h0.6M144.9,243.7h0.6M147.9,255.9h0.6M172.6,259.9h0.6M151.7,235.6h0.6M154.4,260.0h0.6M141.6,260.1h0.6M183.8,223.3h0.6M147.4,246.4h0.6M137.7,225.3h0.6M171.2,242.1h0.6M170.0,244.0h0.6M131.5,258.1h0.6M168.1,266.6h0.6M165.4,255.9h0.6M142.7,258.8h0.6M149.0,221.4h0.6M163.3,272.7h0.6M158.1,274.3h0.6M168.8,273.3h0.6M152.2,257.1h0.6M157.1,264.6h0.6M130.8,244.8h0.6M161.0,251.5h0.6M148.7,216.6h0.6M133.2,276.9h0.6M159.7,230.8h0.6M162.6,254.8h0.6M201.2,227.6h0.6M153.0,233.7h0.6M182.3,261.8h0.6M172.5,262.9h0.6M176.9,251.1h0.6M184.3,250.1h0.6M160.1,240.5h0.6M170.0,236.8h0.6M157.9,242.3h0.6M155.8,229.1h0.6M163.0,234.4h0.6M163.3,238.4h0.6M181.2,242.9h0.6M133.4,260.1h0.6M136.3,251.1h0.6M137.9,228.4h0.6M170.8,234.5h0.6M152.9,252.2h0.6M159.0,253.3h0.6M154.0,216.1h0.6M169.9,224.8h0.6M147.6,250.9h0.6M161.0,271.2h0.6M143.0,222.3h0.6M153.3,238.9h0.6M158.5,243.9h0.6M167.4,257.0h0.6M155.2,258.0h0.6M167.4,227.0h0.6M153.5,256.9h0.6M134.0,230.4h0.6M147.1,232.3h0.6M137.3,216.8h0.6M147.8,247.3h0.6M171.8,241.1h0.6M155.0,270.0h0.6M149.6,231.2h0.6M154.5,225.8h0.6M174.9,255.4h0.6M142.1,269.1h0.6M163.8,248.9h0.6M194.3,243.5h0.6M187.0,239.7h0.6M177.1,234.1h0.6M141.0,239.4h0.6M157.1,248.7h0.6M158.5,264.4h0.6M186.5,250.1h0.6M152.5,239.7h0.6M156.1,235.6h0.6M153.8,234.2h0.6M184.5,249.0h0.6M151.3,219.3h0.6M167.6,248.9h0.6M158.9,249.1h0.6M179.6,272.6h0.6M164.5,264.3h0.6M170.1,264.7h0.6M176.3,216.9h0.6M134.6,249.9h0.6M148.1,242.2h0.6M161.4,233.4h0.6M182.0,266.0h0.6M138.0,235.8h0.6M130.7,231.2h0.6M170.0,251.6h0.6M163.4,243.2h0.6M200.9,221.0h0.6M154.8,236.0h0.6M137.2,267.2h0.6M168.0,274.3h0.6M169.9,236.7h0.6M147.7,265.7h0.6M159.4,273.5h0.6M155.8,250.7h0.6M180.7,255.1h0.6M154.4,223.0h0.6M167.9,231.3h0.6M142.5,239.9h0.6M160.3,214.2h0.6M172.7,237.0h0.6M160.5,228.9h0.6M161.1,276.1h0.6M152.1,243.9h0.6M158.4,258.1h0.6M187.1,225.6h0.6M179.1,252.4h0.6M142.6,243.2h0.6M160.9,255.1h0.6M177.9,214.1h0.6M131.7,241.2h0.6M167.4,253.9h0.6M155.1,253.1h0.6M148.2,263.1h0.6M173.5,265.0h0.6M180.1,222.9h0.6M194.9,265.3h0.6M137.8,214.8h0.6M146.1,268.0h0.6M153.9,276.3h0.6M165.2,258.2h0.6M170.8,239.7h0.6M182.4,252.8h0.6M145.6,249.6h0.6M175.2,272.8h0.6M148.3,246.1h0.6M151.1,248.0h0.6M171.7,263.5h0.6M138.2,221.0h0.6M177.0,222.3h0.6M156.9,226.9h0.6M148.0,229.4h0.6M159.3,236.7h0.6M188.9,270.2h0.6M165.6,249.4h0.6M152.3,252.9h0.6M174.9,253.1h0.6M192.1,271.0h0.6M148.0,250.2h0.6M146.1,238.0h0.6M187.2,225.6h0.6M149.3,254.3h0.6M144.3,247.7h0.6M146.7,223.3h0.6M167.7,215.7h0.6M170.3,251.9h0.6M157.9,240.7h0.6M168.3,259.2h0.6M144.8,249.8h0.6M145.9,263.2h0.6M180.8,244.8h0.6M161.6,236.5h0.6M163.3,247.5h0.6M136.7,244.5h0.6M141.5,242.0h0.6M165.5,247.4h0.6M152.3,260.8h0.6M144.0,237.2h0.6M172.4,266.2h0.6M156.3,254.5h0.6M164.5,275.8h0.6M144.4,264.1h0.6M159.2,263.3h0.6M155.1,265.3h0.6M140.0,245.3h0.6M163.2,220.8h0.6M141.0,229.1h0.6M166.4,250.7h0.6M134.0,238.5h0.6M193.9,242.4h0.6M162.3,246.6h0.6M129.9,252.5h0.6M145.3,269.3h0.6M132.5,219.4h0.6M157.4,275.2h0.6M179.5,221.6h0.6M137.6,227.6h0.6M170.0,252.3h0.6M166.8,221.2h0.6M176.7,219.0h0.6M147.3,264.2h0.6M155.9,241.4h0.6M171.5,234.2h0.6M151.9,251.7h0.6M163.1,253.7h0.6M147.7,246.1h0.6M145.3,262.2h0.6M134.2,253.8h0.6M161.2,257.0h0.6M155.6,263.6h0.6M171.7,220.5h0.6M143.4,253.3h0.6M172.6,255.1h0.6M172.9,216.8h0.6M195.0,248.3h0.6M176.1,264.9h0.6M162.8,265.0h0.6M136.7,250.3h0.6M195.0,262.4h0.6M177.3,258.7h0.6M149.1,240.5h0.6M192.5,263.0h0.6M180.3,253.1h0.6M177.5,246.9h0.6M180.8,245.0h0.6M173.2,260.7h0.6M179.1,244.9h0.6M179.1,247.7h0.6M136.6,236.6h0.6M157.4,240.8h0.6M176.3,255.3h0.6M163.5,275.3h0.6M150.2,276.6h0.6M133.5,234.6h0.6M149.2,247.1h0.6M187.3,241.2h0.6M132.3,254.9h0.6M148.0,240.6h0.6M160.8,240.4h0.6M154.6,259.4h0.6M150.9,241.3h0.6M159.0,258.6h0.6M162.3,249.1h0.6M176.6,241.0h0.6M137.2,223.2h0.6M142.4,255.7h0.6M176.9,241.8h0.6M155.6,273.6h0.6M166.4,229.9h0.6M138.4,257.3h0.6M198.0,266.8h0.6M174.0,253.0h0.6M171.0,269.2h0.6M144.3,254.8h0.6M167.2,265.5h0.6M145.9,253.9h0.6M157.6,249.1h0.6M171.3,235.9h0.6M156.6,252.0h0.6M140.9,249.6h0.6M164.7,268.0h0.6M190.0,244.0h0.6M145.0,258.2h0.6M184.7,251.8h0.6M157.8,264.1h0.6M168.4,269.0h0.6M130.0,243.3h0.6M168.4,243.1h0.6M154.8,220.2h0.6M164.0,268.1h0.6M153.5,246.4h0.6M157.6,240.4h0.6M164.3,258.5h0.6M177.3,245.1h0.6M199.0,227.0h0.6M166.3,225.0h0.6M151.6,260.9h0.6M195.4,252.3h0.6M133.6,240.3h0.6M183.3,262.2h0.6M174.2,237.6h0.6M167.7,256.0h0.6M140.8,261.4h0.6M138.0,236.5h0.6M163.4,235.8h0.6M170.2,247.2h0.6M152.4,227.9h0.6M170.8,266.1h0.6M146.4,257.9h0.6M181.7,250.8h0.6M150.9,261.4h0.6M153.0,244.0h0.6M148.0,251.1h0.6M148.6,248.9h0.6M197.1,253.7h0.6M166.9,245.2h0.6M182.6,256.2h0.6M165.4,246.0h0.6M170.8,256.0h0.6M161.4,275.1h0.6M163.1,218.9h0.6M136.7,265.9h0.6M171.4,257.5h0.6M170.1,222.5h0.6M163.7,214.9h0.6M148.0,274.2h0.6M159.8,233.9h0.6M193.4,257.4h0.6M133.6,244.1h0.6M173.4,239.0h0.6M149.6,231.3h0.6M151.2,218.2h0.6M163.5,256.9h0.6M138.0,234.8h0.6M188.9,219.1h0.6M184.1,217.0h0.6M179.4,253.2h0.6M172.1,245.0h0.6M167.9,231.5h0.6M166.1,250.8h0.6M162.6,246.1h0.6M151.9,236.3h0.6M159.3,236.1h0.6M141.9,244.0h0.6M176.7,239.9h0.6M179.1,234.7h0.6M159.9,275.8h0.6M142.1,229.2h0.6M169.3,219.1h0.6M149.9,275.2h0.6M187.3,235.2h0.6M140.3,259.7h0.6M181.5,257.1h0.6M155.4,246.7h0.6M185.1,244.9h0.6M169.0,240.1h0.6M157.8,227.9h0.6M176.7,235.8h0.6M171.4,251.6h0.6M135.5,262.8h0.6M174.6,247.7h0.6M159.6,256.1h0.6M154.0,227.2h0.6M145.0,240.4h0.6M160.2,255.4h0.6M159.6,215.4h0.6M167.4,247.1h0.6M137.1,256.6h0.6M135.7,244.2h0.6M173.1,230.2h0.6M167.4,237.9h0.6M158.1,245.9h0.6M130.2,226.1h0.6M154.7,260.5h0.6M185.7,223.4h0.6M167.2,252.2h0.6M178.1,241.7h0.6M163.1,221.9h0.6M161.7,229.4h0.6M151.8,266.2h0.6M175.5,235.4h0.6M167.4,249.5h0.6M133.4,252.2h0.6M164.5,240.5h0.6M154.7,247.0h0.6M165.5,267.1h0.6M158.6,245.2h0.6M184.0,246.7h0.6M163.8,276.8h0.6M148.5,263.8h0.6M151.6,267.4h0.6M144.9,221.7h0.6M182.7,250.2h0.6M143.0,253.6h0.6M166.8,262.8h0.6M132.6,244.6h0.6M183.4,251.5h0.6M138.1,249.2h0.6M161.9,241.2h0.6M180.9,227.6h0.6M179.0,262.9h0.6M184.5,267.2h0.6M156.6,247.3h0.6M181.4,257.8h0.6M145.6,247.1h0.6M137.5,265.8h0.6M170.5,259.2h0.6M173.2,260.4h0.6M167.4,244.5h0.6M148.7,232.0h0.6M165.7,260.0h0.6M153.6,254.9h0.6M164.4,231.1h0.6M154.7,267.6h0.6M161.6,242.6h0.6M141.5,242.0h0.6M178.2,269.8h0.6M138.8,241.2h0.6M159.7,254.5h0.6M179.9,262.0h0.6M187.0,234.3h0.6M163.3,267.9h0.6M151.4,272.7h0.6M155.3,263.4h0.6M178.1,244.8h0.6M170.0,264.6h0.6M163.7,244.5h0.6M156.4,256.4h0.6M156.8,236.1h0.6M166.6,236.9h0.6M170.1,260.6h0.6M167.3,254.7h0.6M155.5,240.5h0.6M154.0,240.0h0.6M169.8,254.5h0.6M165.4,227.8h0.6M175.7,225.7h0.6M155.1,250.2h0.6M168.6,234.5h0.6M183.7,237.7h0.6M159.1,250.2h0.6M138.6,267.2h0.6M147.3,216.4h0.6M141.6,232.2h0.6M181.8,222.4h0.6M175.5,250.8h0.6M176.9,245.3h0.6M160.6,239.3h0.6M154.9,263.7h0.6M163.9,231.9h0.6M142.7,254.7h0.6M145.1,228.5h0.6M135.7,238.8h0.6M165.0,236.8h0.6M169.5,262.7h0.6M136.2,257.2h0.6M180.5,265.6h0.6M165.9,248.2h0.6M141.0,254.1h0.6M131.1,222.6h0.6M168.4,242.7h0.6M129.9,247.3h0.6M135.7,217.6h0.6M158.3,224.5h0.6M164.3,270.1h0.6M131.3,226.9h0.6M136.7,237.0h0.6M149.7,266.6h0.6M182.1,255.3h0.6M179.2,262.0h0.6M142.3,240.9h0.6M174.7,265.8h0.6M198.1,256.0h0.6M141.3,254.4h0.6M165.8,273.2h0.6M168.8,216.8h0.6M154.3,238.4h0.6M180.4,237.1h0.6M136.2,259.8h0.6M169.1,252.8h0.6M160.4,214.2h0.6M162.0,217.3h0.6M189.5,261.9h0.6M167.0,261.4h0.6M138.5,270.7h0.6M169.5,251.6h0.6M153.5,237.2h0.6M186.1,257.8h0.6M162.7,271.7h0.6M167.6,266.9h0.6M181.2,240.2h0.6M179.3,264.8h0.6M171.9,264.7h0.6M139.6,224.8h0.6M157.9,264.3h0.6M138.9,251.5h0.6M153.0,247.0h0.6M172.3,239.6h0.6M158.6,259.1h0.6M181.1,269.2h0.6M188.4,239.5h0.6M158.4,240.2h0.6M149.8,236.4h0.6M146.3,241.0h0.6M170.6,228.6h0.6M169.8,237.0h0.6M135.9,248.9h0.6M158.9,253.4h0.6M152.3,217.8h0.6M157.4,234.4h0.6M170.5,271.5h0.6M163.1,263.6h0.6M150.7,225.8h0.6M147.7,259.2h0.6M161.4,215.9h0.6M132.9,268.9h0.6M171.4,231.1h0.6M163.0,232.2h0.6M177.7,253.5h0.6M149.5,237.0h0.6M174.6,230.2h0.6M154.2,248.8h0.6M155.7,268.6h0.6M148.7,271.6h0.6M147.3,252.3h0.6M163.2,241.8h0.6M175.7,276.0h0.6M150.6,220.5h0.6M160.1,265.8h0.6M154.7,245.2h0.6M178.9,247.7h0.6M130.2,258.4h0.6M172.9,247.0h0.6M156.6,258.1h0.6M163.1,259.1h0.6M146.6,241.7h0.6M189.4,246.0h0.6M175.2,246.2h0.6M196.1,237.7h0.6M165.0,244.9h0.6M146.1,259.7h0.6M158.9,243.6h0.6M183.8,233.9h0.6M137.0,241.2h0.6M159.8,266.4h0.6M157.5,223.3h0.6M167.3,244.2h0.6M154.1,241.3h0.6M165.1,250.6h0.6M147.6,259.0h0.6M172.5,262.8h0.6M190.3,247.0h0.6M151.4,248.9h0.6M139.6,252.4h0.6M146.3,256.0h0.6M184.5,256.8h0.6M156.0,248.1h0.6M168.8,237.3h0.6M145.1,252.3h0.6M139.2,262.9h0.6M162.1,226.9h0.6M155.9,230.8h0.6M184.7,241.3h0.6M169.8,231.1h0.6M171.7,227.9h0.6M171.4,233.2h0.6M168.6,216.7h0.6M173.4,262.6h0.6M198.0,237.4h0.6M160.1,248.1h0.6M145.3,274.2h0.6M173.0,272.2h0.6M132.4,247.9h0.6M157.9,238.9h0.6M149.8,257.6h0.6M149.7,271.5h0.6M179.6,237.0h0.6M172.5,235.3h0.6M176.9,214.1h0.6M188.8,268.7h0.6M151.6,274.3h0.6M161.7,224.5h0.6M187.6,249.9h0.6M149.9,220.7h0.6M155.9,214.2h0.6M159.2,263.5h0.6M145.5,242.4h0.6M201.3,235.2h0.6M157.3,269.2h0.6M166.9,251.8h0.6M154.7,228.7h0.6M169.4,224.7h0.6M150.7,237.4h0.6M158.2,248.5h0.6M167.2,246.3h0.6M142.5,227.4h0.6M162.0,253.3h0.6M187.0,256.8h0.6M156.1,228.1h0.6M160.6,256.9h0.6M200.1,234.1h0.6M174.3,270.3h0.6M158.2,218.5h0.6M144.9,252.8h0.6M165.7,265.5h0.6M150.0,240.0h0.6M182.7,256.8h0.6M153.7,253.5h0.6M177.6,244.4h0.6M188.5,248.9h0.6M142.0,240.2h0.6M160.6,230.1h0.6M180.8,226.3h0.6M159.1,251.1h0.6M184.8,238.7h0.6M149.2,258.6h0.6M158.2,269.9h0.6M157.8,244.3h0.6M171.5,240.2h0.6M150.8,243.6h0.6M139.5,253.6h0.6M156.9,246.0h0.6M155.2,257.5h0.6M147.7,226.2h0.6M165.8,261.0h0.6M161.2,246.8h0.6M146.7,235.7h0.6M177.1,229.2h0.6M164.2,251.1h0.6M146.8,260.7h0.6M161.6,250.0h0.6M136.2,250.9h0.6M182.4,235.3h0.6M150.8,260.7h0.6M162.9,251.2h0.6M165.9,238.9h0.6M157.0,231.5h0.6M177.2,251.5h0.6M162.8,264.5h0.6M172.6,238.8h0.6M162.5,239.1h0.6M140.1,243.8h0.6M136.7,244.0h0.6M178.1,234.7h0.6M181.7,244.5h0.6M180.3,247.1h0.6M179.8,238.1h0.6M194.9,230.5h0.6M141.8,258.4h0.6M145.5,258.5h0.6M162.9,233.7h0.6M151.1,231.2h0.6M188.2,256.7h0.6M135.4,245.5h0.6M157.1,256.0h0.6M142.6,217.4h0.6M153.3,250.5h0.6M144.3,248.9h0.6M161.4,230.7h0.6M162.2,248.6h0.6M133.1,261.1h0.6M165.2,233.5h0.6M136.5,249.5h0.6M145.0,251.6h0.6M156.3,260.2h0.6M178.8,237.4h0.6M167.4,273.9h0.6M139.1,227.0h0.6M166.4,246.5h0.6M164.6,261.8h0.6M146.4,238.3h0.6M139.9,224.8h0.6M160.4,224.9h0.6M167.3,236.0h0.6M135.0,222.9h0.6M167.7,225.2h0.6M137.8,270.4h0.6M139.3,244.3h0.6M164.4,255.3h0.6M137.1,245.2h0.6M158.3,255.2h0.6M175.3,216.5h0.6M144.2,261.0h0.6M193.9,239.9h0.6M130.7,240.3h0.6M170.4,246.2h0.6M172.9,275.3h0.6M171.1,275.1h0.6M175.3,248.8h0.6M132.1,233.1h0.6M138.1,250.6h0.6M147.8,274.3h0.6M133.4,260.8h0.6M133.3,229.1h0.6M141.6,261.1h0.6M167.8,225.8h0.6M147.7,275.2h0.6M149.5,247.1h0.6M172.6,254.1h0.6M144.6,263.9h0.6M139.1,263.4h0.6M153.3,273.1h0.6M149.7,240.6h0.6M181.3,264.9h0.6M144.5,241.8h0.6M145.2,255.8h0.6M172.5,247.5h0.6M146.2,219.4h0.6M157.6,232.4h0.6M143.4,218.1h0.6M143.9,214.5h0.6M156.4,235.7h0.6M167.7,234.7h0.6M148.5,244.8h0.6M150.9,244.5h0.6M166.6,270.1h0.6M138.6,225.1h0.6M145.4,270.1h0.6M189.3,240.8h0.6M163.9,233.3h0.6M137.9,234.8h0.6M139.0,247.7h0.6M170.7,259.0h0.6M138.6,246.5h0.6M161.6,237.2h0.6M179.2,254.2h0.6M162.4,230.5h0.6M138.1,251.7h0.6M146.1,233.1h0.6M186.9,238.9h0.6M141.5,233.1h0.6M157.0,243.0h0.6M154.0,246.0h0.6M190.5,234.9h0.6M138.3,248.9h0.6M180.9,270.8h0.6M154.1,264.9h0.6M134.2,243.9h0.6M161.9,214.0h0.6M157.3,217.2h0.6M186.8,255.7h0.6M139.4,227.1h0.6M146.5,230.8h0.6M141.4,217.2h0.6M129.4,256.5h0.6M151.4,239.3h0.6M152.4,217.4h0.6M139.4,227.1h0.6M136.5,252.8h0.6M166.3,257.7h0.6M155.8,232.3h0.6M145.5,269.9h0.6M146.3,275.1h0.6M155.4,228.6h0.6M161.3,257.4h0.6M161.1,246.8h0.6M146.5,243.4h0.6M187.6,258.7h0.6M185.6,235.7h0.6M171.7,252.7h0.6M148.8,235.9h0.6M169.1,228.4h0.6M140.2,230.3h0.6M195.9,251.2h0.6M156.5,223.0h0.6M170.9,245.6h0.6M172.9,234.3h0.6" stroke="#333" stroke-width="0.60" stroke-opacity="0.55" fill="none"/>
<path d="M199.5,250.1h0.5M167.2,255.8h0.5M193.4,262.4h0.5M189.6,234.0h0.5M178.0,261.9h0.5M168.3,226.4h0.5M181.6,258.3h0.5M179.0,238.9h0.5M198.6,229.7h0.5M195.2,231.9h0.5M190.9,263.6h0.5M190.6,256.2h0.5M172.0,242.6h0.5M169.2,244.4h0.5M195.6,226.1h0.5M168.5,247.0h0.5M189.4,249.0h0.5M190.0,262.9h0.5M195.4,239.1h0.5M188.9,258.3h0.5M172.9,245.0h0.5M183.7,263.6h0.5M181.0,233.7h0.5M186.6,262.0h0.5M199.8,238.7h0.5M171.1,256.0h0.5M170.6,230.6h0.5M181.0,248.0h0.5M179.4,236.1h0.5M190.0,242.8h0.5M186.6,241.4h0.5M183.2,237.2h0.5M176.1,243.3h0.5M199.3,231.2h0.5M166.4,243.5h0.5M166.5,231.8h0.5M182.6,237.5h0.5M177.3,239.2h0.5M187.0,234.4h0.5M190.8,226.5h0.5M195.3,251.2h0.5M194.5,254.7h0.5M171.9,244.8h0.5M167.3,262.3h0.5M183.7,258.5h0.5M182.2,235.4h0.5M190.8,247.8h0.5M176.9,262.2h0.5M177.1,259.9h0.5M179.6,262.6h0.5M192.1,250.6h0.5M169.5,250.1h0.5M170.4,261.5h0.5M187.6,236.0h0.5M177.4,227.3h0.5M171.0,233.8h0.5M190.0,237.9h0.5M170.4,239.8h0.5M193.9,235.1h0.5M192.1,233.9h0.5M200.0,260.8h0.5M175.9,243.5h0.5M172.4,251.4h0.5M200.5,256.2h0.5M191.9,237.1h0.5M184.0,228.9h0.5M195.9,247.9h0.5M173.4,247.2h0.5M197.6,232.5h0.5M181.7,240.3h0.5M179.4,246.6h0.5M182.9,239.2h0.5M184.1,239.1h0.5M182.6,249.4h0.5M191.7,250.0h0.5M185.5,234.7h0.5M191.1,241.1h0.5M174.0,249.9h0.5M180.7,238.3h0.5M188.1,235.9h0.5M187.1,252.2h0.5M169.8,247.2h0.5M177.7,233.3h0.5M169.5,237.8h0.5M183.3,246.1h0.5M167.0,234.9h0.5M183.4,236.7h0.5M168.7,246.6h0.5M172.6,246.2h0.5M176.6,251.4h0.5M167.3,231.3h0.5M177.4,256.8h0.5M185.1,240.8h0.5M188.4,249.6h0.5M182.7,260.1h0.5M188.3,243.5h0.5M166.4,234.3h0.5M173.3,258.3h0.5M195.9,235.0h0.5M184.4,234.5h0.5M188.9,239.3h0.5M185.8,262.5h0.5M181.6,227.1h0.5M182.9,226.4h0.5M198.0,230.3h0.5M183.0,228.0h0.5M184.7,242.2h0.5M197.2,249.4h0.5M186.5,248.9h0.5M178.3,250.9h0.5M181.4,240.4h0.5M187.9,259.4h0.5M189.2,241.2h0.5M178.3,256.2h0.5M197.0,244.6h0.5M170.2,228.4h0.5M184.5,237.1h0.5M173.9,235.6h0.5M200.2,253.9h0.5M169.3,259.0h0.5M200.5,242.7h0.5M166.3,247.9h0.5M198.7,247.9h0.5M175.2,234.9h0.5M166.2,245.1h0.5M171.5,252.3h0.5M176.9,229.6h0.5M173.1,231.0h0.5M200.0,240.2h0.5M192.4,228.8h0.5M196.4,238.4h0.5M180.0,253.0h0.5M173.1,238.0h0.5M174.8,256.2h0.5M179.5,253.9h0.5M173.0,228.9h0.5M176.0,231.5h0.5M170.3,240.4h0.5M168.8,246.3h0.5M183.9,250.6h0.5M182.4,246.8h0.5M191.8,258.6h0.5M168.6,234.5h0.5M193.3,237.4h0.5M191.4,245.8h0.5M199.4,256.3h0.5M185.3,238.2h0.5M186.3,259.0h0.5M197.4,263.5h0.5M185.3,244.4h0.5M195.4,262.2h0.5M183.5,228.3h0.5M186.4,263.7h0.5M173.2,243.5h0.5M172.3,241.1h0.5M190.8,262.9h0.5M180.0,245.5h0.5M191.9,252.3h0.5M166.5,259.1h0.5M195.2,233.3h0.5M171.3,253.2h0.5M166.7,252.6h0.5M196.9,244.1h0.5M176.3,228.0h0.5M171.2,261.3h0.5M189.1,246.3h0.5M185.9,256.7h0.5M200.9,253.4h0.5M173.6,259.4h0.5M191.0,229.7h0.5M192.9,252.4h0.5M198.8,231.8h0.5M195.2,254.3h0.5M186.3,238.0h0.5M194.4,255.6h0.5M187.6,261.5h0.5M173.9,244.0h0.5M179.3,255.7h0.5M190.9,248.5h0.5M167.4,242.2h0.5M191.9,247.6h0.5M181.3,233.7h0.5M187.7,229.1h0.5M189.6,243.8h0.5M198.6,259.1h0.5M167.8,251.7h0.5M179.9,240.4h0.5M170.9,250.7h0.5M181.1,254.5h0.5M171.7,236.2h0.5M178.5,255.1h0.5M194.8,248.4h0.5M176.4,258.7h0.5M182.9,246.9h0.5M193.5,229.3h0.5M167.5,261.8h0.5M182.3,245.9h0.5M184.3,229.7h0.5M192.4,232.1h0.5M199.9,249.9h0.5" stroke="#444" stroke-width="0.54" stroke-opacity="0.5" fill="none"/>
<path d="M129.3,216 L129.9,216 L130.9,224 L131.3,277 L129.3,277 Z" fill="#0c0c0c" filter="url(#b05)"/>
<rect x="130.9" y="224" width="1.5" height="46" fill="#444" opacity="0.4" filter="url(#b05)"/>
<rect x="129.3" y="275.1" width="36" height="1.9" fill="#0c0c0c" filter="url(#b05)"/>
<rect x="140" y="273.4" width="28" height="1.6" fill="#444" opacity="0.5" filter="url(#b05)"/>
<rect x="164" y="275.4" width="13" height="1.4" fill="#444" opacity="0.55" filter="url(#b05)"/>
<path d="M134.60,224.40C135.55,222.48 138.17,221.03 140.40,220.00C142.63,218.97 145.18,218.65 148.00,218.20C150.82,217.75 154.47,217.13 157.30,217.30C160.13,217.47 162.68,218.50 165.00,219.20C167.32,219.90 169.15,220.92 171.20,221.50C173.25,222.08 174.75,222.67 177.30,222.70C179.85,222.73 183.93,221.65 186.50,221.70C189.07,221.75 191.25,222.50 192.70,223.00C194.15,223.50 195.48,224.12 195.20,224.70C194.92,225.28 192.95,226.05 191.00,226.50C189.05,226.95 185.78,227.07 183.50,227.40C181.22,227.73 179.10,227.68 177.30,228.50C175.50,229.32 173.95,230.38 172.70,232.30C171.45,234.22 170.55,237.18 169.80,240.00C169.05,242.82 168.83,246.12 168.20,249.20C167.57,252.28 166.90,255.93 166.00,258.50C165.10,261.07 164.25,263.07 162.80,264.60C161.35,266.13 158.80,267.43 157.30,267.70C155.80,267.97 155.42,267.48 153.80,266.20C152.18,264.92 149.53,262.57 147.60,260.00C145.67,257.43 143.84,253.88 142.20,250.80C140.56,247.72 139.00,244.72 137.75,241.50C136.50,238.28 135.23,234.35 134.71,231.50C134.18,228.65 133.65,226.32 134.60,224.40Z" fill="#fff" stroke="#505050" stroke-width="0.55" fill-opacity="0.8"/>
<path d="M137.00,226.00C137.77,224.27 139.70,222.63 141.60,221.60C143.50,220.57 145.78,220.27 148.40,219.80C151.02,219.33 154.63,218.67 157.30,218.80C159.97,218.93 162.22,219.90 164.40,220.60C166.58,221.30 168.27,222.43 170.40,223.00C172.53,223.57 174.68,223.93 177.20,224.00C179.72,224.07 183.28,223.30 185.50,223.40C187.72,223.50 190.50,224.20 190.50,224.60C190.50,225.00 187.72,225.47 185.50,225.80C183.28,226.13 179.57,225.80 177.20,226.60C174.83,227.40 172.72,228.53 171.30,230.60C169.88,232.67 169.38,235.93 168.70,239.00C168.02,242.07 167.78,245.90 167.20,249.00C166.62,252.10 166.03,255.20 165.20,257.60C164.37,260.00 163.52,261.97 162.20,263.40C160.88,264.83 158.60,265.97 157.30,266.20C156.00,266.43 155.82,266.00 154.40,264.80C152.98,263.60 150.53,261.40 148.80,259.00C147.07,256.60 145.49,253.40 144.00,250.40C142.51,247.40 141.05,244.07 139.88,241.00C138.71,237.93 137.46,234.50 136.98,232.00C136.50,229.50 136.23,227.73 137.00,226.00Z" fill="none" stroke="#505050" stroke-width="0.55"/>
<path d="M140.40,226.00C140.99,224.43 142.13,223.43 143.50,222.60C144.87,221.77 146.30,221.43 148.60,221.00C150.90,220.57 154.77,219.87 157.30,220.00C159.83,220.13 162.05,220.77 163.80,221.80C165.55,222.83 167.17,223.93 167.80,226.20C168.43,228.47 167.83,232.07 167.60,235.40C167.37,238.73 166.93,242.70 166.40,246.20C165.87,249.70 165.20,253.70 164.40,256.40C163.60,259.10 162.78,261.00 161.60,262.40C160.42,263.80 158.87,264.67 157.30,264.80C155.73,264.93 153.45,264.43 152.20,263.20C150.95,261.97 150.90,259.73 149.80,257.40C148.70,255.07 146.91,252.10 145.60,249.20C144.29,246.30 142.87,242.87 141.93,240.00C141.00,237.13 140.23,234.33 139.98,232.00C139.72,229.67 139.81,227.57 140.40,226.00Z" fill="none" stroke="#505050" stroke-width="0.55"/>
<path d="M142.75,228.39C143.26,227.02 144.26,226.15 145.44,225.42C146.62,224.69 147.86,224.38 149.86,224.00C151.85,223.61 155.20,223.00 157.39,223.11C159.59,223.22 161.51,223.77 163.03,224.67C164.55,225.57 165.95,226.52 166.50,228.49C167.06,230.46 166.56,233.54 166.37,236.48C166.19,239.43 165.86,243.02 165.39,246.16C164.93,249.29 164.30,252.91 163.59,255.30C162.88,257.69 162.16,259.30 161.13,260.51C160.10,261.73 158.75,262.48 157.39,262.59C156.03,262.70 154.05,262.26 152.96,261.19C151.87,260.11 151.82,258.20 150.85,256.14C149.89,254.08 148.31,251.42 147.18,248.83C146.04,246.25 144.83,243.17 144.02,240.63C143.22,238.09 142.58,235.66 142.37,233.62C142.15,231.58 142.24,229.76 142.75,228.39Z" fill="none" stroke="#505050" stroke-width="0.55"/>
<path d="M145.10,230.78C145.54,229.61 146.38,228.87 147.38,228.24C148.38,227.61 149.43,227.34 151.11,227.00C152.80,226.66 155.63,226.13 157.49,226.22C159.34,226.31 160.97,226.78 162.26,227.54C163.54,228.30 164.73,229.11 165.21,230.78C165.69,232.45 165.28,235.01 165.14,237.57C165.01,240.12 164.78,243.34 164.38,246.11C163.99,248.88 163.40,252.11 162.78,254.20C162.16,256.28 161.54,257.60 160.66,258.63C159.78,259.66 158.64,260.28 157.48,260.38C156.33,260.47 154.65,260.09 153.72,259.18C152.79,258.26 152.73,256.67 151.91,254.88C151.08,253.09 149.72,250.73 148.75,248.46C147.78,246.19 146.78,243.46 146.11,241.26C145.45,239.06 144.92,236.98 144.76,235.24C144.59,233.49 144.67,231.95 145.10,230.78Z" fill="none" stroke="#505050" stroke-width="0.55"/>
<path d="M147.45,233.17C147.82,232.20 148.50,231.58 149.32,231.05C150.14,230.52 150.99,230.29 152.37,230.00C153.74,229.71 156.06,229.26 157.58,229.32C159.10,229.39 160.43,229.78 161.48,230.41C162.54,231.03 163.51,231.70 163.91,233.07C164.32,234.45 164.00,236.48 163.92,238.65C163.83,240.81 163.70,243.66 163.37,246.07C163.05,248.47 162.50,251.32 161.97,253.10C161.44,254.87 160.92,255.90 160.19,256.74C159.46,257.59 158.53,258.09 157.58,258.16C156.62,258.23 155.25,257.92 154.48,257.17C153.71,256.41 153.65,255.13 152.96,253.62C152.27,252.11 151.12,250.05 150.33,248.10C149.53,246.14 148.73,243.76 148.20,241.89C147.67,240.02 147.27,238.31 147.14,236.86C147.02,235.40 147.09,234.14 147.45,233.17Z" fill="none" stroke="#505050" stroke-width="0.55"/>
<path d="M149.64,235.39C149.93,234.61 150.47,234.10 151.12,233.67C151.77,233.24 152.44,233.03 153.53,232.78C154.62,232.54 156.46,232.16 157.67,232.21C158.87,232.26 159.93,232.57 160.77,233.07C161.61,233.57 162.37,234.11 162.71,235.20C163.04,236.30 162.82,237.85 162.77,239.65C162.73,241.46 162.70,243.96 162.44,246.03C162.18,248.09 161.66,250.58 161.21,252.07C160.77,253.57 160.35,254.32 159.76,254.99C159.17,255.66 158.42,256.06 157.66,256.11C156.90,256.16 155.81,255.91 155.18,255.30C154.56,254.69 154.50,253.71 153.94,252.45C153.37,251.19 152.42,249.42 151.79,247.75C151.16,246.09 150.55,244.04 150.15,242.47C149.74,240.91 149.45,239.54 149.36,238.36C149.28,237.18 149.34,236.17 149.64,235.39Z" fill="none" stroke="#505050" stroke-width="0.55"/>
<path d="M151.82,237.61C152.05,237.02 152.44,236.63 152.92,236.29C153.40,235.95 153.89,235.77 154.70,235.57C155.50,235.37 156.86,235.07 157.75,235.10C158.65,235.13 159.42,235.37 160.05,235.74C160.68,236.11 161.24,236.51 161.51,237.33C161.77,238.15 161.63,239.22 161.63,240.66C161.63,242.10 161.70,244.25 161.50,245.98C161.31,247.72 160.82,249.84 160.46,251.05C160.10,252.26 159.77,252.74 159.32,253.24C158.87,253.74 158.32,254.02 157.75,254.05C157.17,254.09 156.36,253.89 155.89,253.43C155.42,252.97 155.35,252.28 154.91,251.28C154.47,250.28 153.72,248.78 153.25,247.41C152.78,246.04 152.37,244.32 152.09,243.06C151.81,241.80 151.62,240.77 151.58,239.86C151.54,238.95 151.60,238.21 151.82,237.61Z" fill="none" stroke="#505050" stroke-width="0.55"/>
<path d="M153.84,239.66C154.00,239.24 154.26,238.96 154.59,238.70C154.91,238.45 155.23,238.30 155.78,238.14C156.32,237.98 157.23,237.75 157.83,237.76C158.44,237.77 158.96,237.94 159.39,238.20C159.82,238.45 160.20,238.73 160.39,239.29C160.59,239.86 160.54,240.48 160.58,241.59C160.62,242.70 160.77,244.53 160.64,245.95C160.50,247.37 160.05,249.16 159.77,250.11C159.48,251.05 159.24,251.28 158.92,251.62C158.60,251.96 158.22,252.14 157.83,252.16C157.43,252.17 156.88,252.03 156.54,251.70C156.21,251.38 156.14,250.97 155.82,250.20C155.49,249.43 154.92,248.20 154.60,247.10C154.28,246.00 154.04,244.57 153.88,243.60C153.72,242.62 153.63,241.91 153.63,241.25C153.62,240.59 153.68,240.09 153.84,239.66Z" fill="none" stroke="#505050" stroke-width="0.55"/>
<path d="M155.68,241.54C155.79,241.27 155.93,241.09 156.11,240.92C156.29,240.74 156.46,240.62 156.76,240.50C157.06,240.38 157.57,240.21 157.91,240.20C158.24,240.20 158.54,240.30 158.78,240.45C159.03,240.60 159.24,240.76 159.38,241.10C159.52,241.43 159.54,241.64 159.62,242.44C159.69,243.24 159.93,244.78 159.84,245.91C159.76,247.04 159.34,248.54 159.13,249.24C158.91,249.94 158.76,249.94 158.55,250.14C158.35,250.33 158.13,250.42 157.90,250.42C157.66,250.42 157.35,250.33 157.14,250.12C156.93,249.92 156.86,249.76 156.64,249.21C156.43,248.66 156.02,247.66 155.84,246.81C155.65,245.96 155.58,244.81 155.52,244.09C155.47,243.38 155.48,242.95 155.50,242.52C155.53,242.10 155.58,241.81 155.68,241.54Z" fill="none" stroke="#505050" stroke-width="0.55"/>
<ellipse cx="157.3" cy="220.4" rx="4.6" ry="1.5" fill="#333" opacity="0.4" filter="url(#b05)"/>
<ellipse cx="163.3" cy="244.4" rx="1.2" ry="3.4" fill="#666" opacity="0.22" filter="url(#b05)"/>
</g>
<rect x="129.10" y="204.40" width="72.80" height="72.60" fill="none" stroke="#707070" stroke-width="0.75"/>
<rect x="175.90" y="215.70" width="24.00" height="13.30" fill="none" stroke="#585858" stroke-width="0.75"/>
<text x="123.20" y="213.50" font-size="4.3" text-anchor="middle" fill="#444">10<tspan dy="-1.6" font-size="2.67">5</tspan></text>
<line x1="127.90" y1="212.00" x2="129.10" y2="212.00" stroke="#707070" stroke-width="0.5"/>
<text x="123.20" y="227.80" font-size="4.3" text-anchor="middle" fill="#444">10<tspan dy="-1.6" font-size="2.67">4</tspan></text>
<line x1="127.90" y1="226.30" x2="129.10" y2="226.30" stroke="#707070" stroke-width="0.5"/>
<text x="123.20" y="242.50" font-size="4.3" text-anchor="middle" fill="#444">10<tspan dy="-1.6" font-size="2.67">3</tspan></text>
<line x1="127.90" y1="241.00" x2="129.10" y2="241.00" stroke="#707070" stroke-width="0.5"/>
<text x="123.20" y="256.80" font-size="4.3" text-anchor="middle" fill="#444">10<tspan dy="-1.6" font-size="2.67">2</tspan></text>
<line x1="127.90" y1="255.30" x2="129.10" y2="255.30" stroke="#707070" stroke-width="0.5"/>
<text x="123.20" y="271.00" font-size="4.3" text-anchor="middle" fill="#444">10<tspan dy="-1.6" font-size="2.67">1</tspan></text>
<line x1="127.90" y1="269.50" x2="129.10" y2="269.50" stroke="#707070" stroke-width="0.5"/>
<text x="136.70" y="282.90" font-size="4.3" text-anchor="middle" fill="#444">10<tspan dy="-1.6" font-size="2.67">1</tspan></text>
<line x1="136.70" y1="277.00" x2="136.70" y2="278.20" stroke="#707070" stroke-width="0.5"/>
<text x="150.90" y="282.90" font-size="4.3" text-anchor="middle" fill="#444">10<tspan dy="-1.6" font-size="2.67">2</tspan></text>
<line x1="150.90" y1="277.00" x2="150.90" y2="278.20" stroke="#707070" stroke-width="0.5"/>
<text x="164.80" y="282.90" font-size="4.3" text-anchor="middle" fill="#444">10<tspan dy="-1.6" font-size="2.67">3</tspan></text>
<line x1="164.80" y1="277.00" x2="164.80" y2="278.20" stroke="#707070" stroke-width="0.5"/>
<text x="180.10" y="282.90" font-size="4.3" text-anchor="middle" fill="#444">10<tspan dy="-1.6" font-size="2.67">4</tspan></text>
<line x1="180.10" y1="277.00" x2="180.10" y2="278.20" stroke="#707070" stroke-width="0.5"/>
<text x="194.90" y="282.90" font-size="4.3" text-anchor="middle" fill="#444">10<tspan dy="-1.6" font-size="2.67">5</tspan></text>
<line x1="194.90" y1="277.00" x2="194.90" y2="278.20" stroke="#707070" stroke-width="0.5"/>
<text x="115.95" y="242.60" font-size="8.8" text-anchor="middle" fill="#333" stroke="#333" stroke-width="0.1" transform="rotate(-90 115.95 242.60)">Kit</text>
<text x="164.20" y="296.55" font-size="8.8" text-anchor="middle" fill="#333" stroke="#333" stroke-width="0.1">Sca-1</text>
<line x1="192.00" y1="223.60" x2="207.00" y2="223.60" stroke="#666" stroke-width="0.6" stroke-dasharray="1.4,0.9"/>
<path d="M212.6,223.5 L207.0,221.1 L207.0,225.9 Z" fill="#111"/>
<clipPath id="cp3"><rect x="238.9" y="204.5" width="72.99999999999997" height="72.60000000000002"/></clipPath>
<g clip-path="url(#cp3)">
<ellipse cx="283" cy="234.5" rx="8.6" ry="15.5" fill="#808080" opacity="0.7" filter="url(#b2)"/>
<ellipse cx="284.6" cy="229" rx="5.2" ry="9" fill="#555" opacity="0.5" filter="url(#b1)" transform="rotate(-10 284.6 229)"/>
<ellipse cx="288.4" cy="234" rx="1.2" ry="4.2" fill="#111" opacity="0.75" filter="url(#b05)" transform="rotate(-14 288.4 234)"/>
<ellipse cx="282" cy="228" rx="0.9" ry="4" fill="#fff" opacity="0.5" filter="url(#b05)" transform="rotate(-14 282 228)"/>
<path d="M263.40,225.00C263.40,223.63 264.50,222.27 265.60,221.40C266.70,220.53 268.52,219.97 270.00,219.80C271.48,219.63 273.27,219.87 274.50,220.40C275.73,220.93 276.85,221.40 277.40,223.00C277.95,224.60 277.87,227.67 277.80,230.00C277.73,232.33 277.47,235.30 277.00,237.00C276.53,238.70 275.73,240.03 275.00,240.20C274.27,240.37 273.33,239.30 272.60,238.00C271.87,236.70 271.77,233.80 270.60,232.40C269.43,231.00 266.80,230.83 265.60,229.60C264.40,228.37 263.40,226.37 263.40,225.00Z" fill="none" stroke="#666" stroke-width="0.45"/>
<path d="M265.42,225.26C265.42,224.20 266.28,223.13 267.14,222.46C268.00,221.78 269.42,221.34 270.57,221.21C271.73,221.08 273.12,221.26 274.08,221.68C275.04,222.09 275.91,222.46 276.34,223.70C276.77,224.95 276.71,227.34 276.66,229.16C276.60,230.98 276.40,233.30 276.03,234.62C275.67,235.95 275.04,236.99 274.47,237.12C273.90,237.25 273.17,236.42 272.60,235.40C272.03,234.39 271.95,232.13 271.04,231.04C270.13,229.94 268.08,229.81 267.14,228.85C266.20,227.89 265.42,226.33 265.42,225.26Z" fill="none" stroke="#666" stroke-width="0.45"/>
<path d="M267.45,225.53C267.45,224.76 268.06,224.00 268.68,223.51C269.30,223.03 270.31,222.71 271.14,222.62C271.97,222.52 272.97,222.65 273.66,222.95C274.35,223.25 274.98,223.51 275.29,224.41C275.60,225.30 275.55,227.02 275.51,228.33C275.47,229.63 275.33,231.30 275.06,232.25C274.80,233.20 274.35,233.95 273.94,234.04C273.53,234.13 273.01,233.54 272.60,232.81C272.19,232.08 272.13,230.46 271.48,229.67C270.83,228.89 269.35,228.79 268.68,228.10C268.01,227.41 267.45,226.29 267.45,225.53Z" fill="none" stroke="#666" stroke-width="0.45"/>
<ellipse cx="284.2" cy="254.80" rx="5.0" ry="4.4" fill="none" stroke="#666" stroke-width="0.45"/>
<ellipse cx="284.2" cy="254.45" rx="4.0" ry="3.4" fill="none" stroke="#666" stroke-width="0.45"/>
<ellipse cx="284.2" cy="254.14" rx="3.0" ry="2.5" fill="none" stroke="#666" stroke-width="0.45"/>
<ellipse cx="284.2" cy="253.82" rx="2.0" ry="1.6" fill="none" stroke="#666" stroke-width="0.45"/>
<ellipse cx="284.2" cy="253.54" rx="1.0" ry="0.8" fill="none" stroke="#666" stroke-width="0.45"/>
<ellipse cx="284.4" cy="276.8" rx="3.6" ry="3" fill="#222" opacity="0.85" filter="url(#b05)"/>
<ellipse cx="284.4" cy="277" rx="4.8" ry="4.4" fill="none" stroke="#555" stroke-width="0.45"/>
<ellipse cx="284.4" cy="277" rx="3.2" ry="3.0" fill="none" stroke="#555" stroke-width="0.45"/>
</g>
<rect x="238.90" y="204.50" width="73.00" height="72.60" fill="none" stroke="#707070" stroke-width="0.75"/>
<line x1="274.20" y1="204.50" x2="274.20" y2="277.10" stroke="#222" stroke-width="0.9"/>
<line x1="238.90" y1="243.70" x2="311.90" y2="243.70" stroke="#222" stroke-width="0.9"/>
<rect x="249.90" y="211.50" width="21.80" height="17.80" fill="none" stroke="#585858" stroke-width="0.75"/>
<rect x="282.30" y="211.50" width="8.90" height="17.80" fill="none" stroke="#585858" stroke-width="0.75"/>
<rect x="275.30" y="251.50" width="18.40" height="25.60" fill="none" stroke="#333" stroke-width="0.8"/>
<text x="233.20" y="213.50" font-size="4.3" text-anchor="middle" fill="#444">10<tspan dy="-1.6" font-size="2.67">5</tspan></text>
<line x1="237.70" y1="212.00" x2="238.90" y2="212.00" stroke="#707070" stroke-width="0.6"/>
<text x="233.20" y="227.80" font-size="4.3" text-anchor="middle" fill="#444">10<tspan dy="-1.6" font-size="2.67">4</tspan></text>
<line x1="237.70" y1="226.30" x2="238.90" y2="226.30" stroke="#707070" stroke-width="0.6"/>
<text x="233.20" y="242.50" font-size="4.3" text-anchor="middle" fill="#444">10<tspan dy="-1.6" font-size="2.67">3</tspan></text>
<line x1="237.70" y1="241.00" x2="238.90" y2="241.00" stroke="#707070" stroke-width="0.6"/>
<text x="233.20" y="256.80" font-size="4.3" text-anchor="middle" fill="#444">10<tspan dy="-1.6" font-size="2.67">2</tspan></text>
<line x1="237.70" y1="255.30" x2="238.90" y2="255.30" stroke="#707070" stroke-width="0.6"/>
<text x="233.20" y="271.00" font-size="4.3" text-anchor="middle" fill="#444">10<tspan dy="-1.6" font-size="2.67">1</tspan></text>
<line x1="237.70" y1="269.50" x2="238.90" y2="269.50" stroke="#707070" stroke-width="0.6"/>
<text x="246.70" y="282.90" font-size="4.3" text-anchor="middle" fill="#444">10<tspan dy="-1.6" font-size="2.67">1</tspan></text>
<line x1="246.70" y1="277.10" x2="246.70" y2="278.30" stroke="#707070" stroke-width="0.5"/>
<text x="260.90" y="282.90" font-size="4.3" text-anchor="middle" fill="#444">10<tspan dy="-1.6" font-size="2.67">2</tspan></text>
<line x1="260.90" y1="277.10" x2="260.90" y2="278.30" stroke="#707070" stroke-width="0.5"/>
<text x="274.40" y="282.90" font-size="4.3" text-anchor="middle" fill="#444">10<tspan dy="-1.6" font-size="2.67">3</tspan></text>
<line x1="274.40" y1="277.10" x2="274.40" y2="278.30" stroke="#707070" stroke-width="0.5"/>
<text x="290.10" y="282.90" font-size="4.3" text-anchor="middle" fill="#444">10<tspan dy="-1.6" font-size="2.67">4</tspan></text>
<line x1="290.10" y1="277.10" x2="290.10" y2="278.30" stroke="#707070" stroke-width="0.5"/>
<text x="304.90" y="282.90" font-size="4.3" text-anchor="middle" fill="#444">10<tspan dy="-1.6" font-size="2.67">5</tspan></text>
<line x1="304.90" y1="277.10" x2="304.90" y2="278.30" stroke="#707070" stroke-width="0.5"/>
<text x="224.95" y="240.50" font-size="8.8" text-anchor="middle" fill="#333" stroke="#333" stroke-width="0.1" transform="rotate(-90 224.95 240.50)">Flt3</text>
<text x="275.70" y="296.55" font-size="8.8" text-anchor="middle" fill="#333" stroke="#333" stroke-width="0.1">Mpl</text>
<text x="250.80" y="266.80" font-size="5.4" text-anchor="end" fill="#222" stroke="#222" stroke-width="0.1">6.0</text>
<text x="253.00" y="266.80" font-size="5.4" text-anchor="start" fill="#222" stroke="#222" stroke-width="0.1">73.5</text>
<text x="250.80" y="273.40" font-size="5.4" text-anchor="end" fill="#222" stroke="#222" stroke-width="0.1">0.5</text>
<text x="253.00" y="273.40" font-size="5.4" text-anchor="start" fill="#222" stroke="#222" stroke-width="0.1">20.2</text>
<line x1="251.70" y1="260.80" x2="251.70" y2="274.20" stroke="#222" stroke-width="0.7"/>
<line x1="239.80" y1="268.20" x2="264.40" y2="268.20" stroke="#222" stroke-width="0.7"/>
<rect x="21.50" y="327.60" width="58.30" height="57.40" fill="none" stroke="#707070" stroke-width="0.75"/>
<line x1="50.60" y1="327.60" x2="50.60" y2="385.00" stroke="#333" stroke-width="0.8"/>
<line x1="21.50" y1="358.10" x2="79.80" y2="358.10" stroke="#333" stroke-width="0.8"/>
<rect x="30.80" y="333.10" width="16.90" height="14.00" fill="none" stroke="#5a5a5a" stroke-width="0.75"/>
<ellipse cx="45.2" cy="344.6" rx="5.6" ry="2.8" fill="#333" opacity="0.7" filter="url(#b1)"/>
<ellipse cx="45.9" cy="344.6" rx="3.8" ry="2.1" fill="#000" filter="url(#b05)"/>
<text x="16.90" y="334.30" font-size="4.8" text-anchor="middle" fill="#2a2a2a" stroke="#2a2a2a" stroke-width="0.12">10<tspan dy="-1.6" font-size="2.98">5</tspan></text>
<line x1="20.30" y1="332.70" x2="21.50" y2="332.70" stroke="#707070" stroke-width="0.5"/>
<text x="16.90" y="345.40" font-size="4.8" text-anchor="middle" fill="#2a2a2a" stroke="#2a2a2a" stroke-width="0.12">10<tspan dy="-1.6" font-size="2.98">4</tspan></text>
<line x1="20.30" y1="343.80" x2="21.50" y2="343.80" stroke="#707070" stroke-width="0.5"/>
<text x="16.90" y="357.40" font-size="4.8" text-anchor="middle" fill="#2a2a2a" stroke="#2a2a2a" stroke-width="0.12">10<tspan dy="-1.6" font-size="2.98">3</tspan></text>
<line x1="20.30" y1="355.80" x2="21.50" y2="355.80" stroke="#707070" stroke-width="0.5"/>
<text x="16.90" y="368.30" font-size="4.8" text-anchor="middle" fill="#2a2a2a" stroke="#2a2a2a" stroke-width="0.12">10<tspan dy="-1.6" font-size="2.98">2</tspan></text>
<line x1="20.30" y1="366.70" x2="21.50" y2="366.70" stroke="#707070" stroke-width="0.5"/>
<text x="16.90" y="379.30" font-size="4.8" text-anchor="middle" fill="#2a2a2a" stroke="#2a2a2a" stroke-width="0.12">10<tspan dy="-1.6" font-size="2.98">1</tspan></text>
<line x1="20.30" y1="377.70" x2="21.50" y2="377.70" stroke="#707070" stroke-width="0.5"/>
<text x="28.50" y="392.00" font-size="4.8" text-anchor="middle" fill="#2a2a2a" stroke="#2a2a2a" stroke-width="0.12">10<tspan dy="-1.6" font-size="2.98">1</tspan></text>
<line x1="28.50" y1="385.00" x2="28.50" y2="386.20" stroke="#707070" stroke-width="0.5"/>
<text x="39.80" y="392.00" font-size="4.8" text-anchor="middle" fill="#2a2a2a" stroke="#2a2a2a" stroke-width="0.12">10<tspan dy="-1.6" font-size="2.98">2</tspan></text>
<line x1="39.80" y1="385.00" x2="39.80" y2="386.20" stroke="#707070" stroke-width="0.5"/>
<text x="50.50" y="392.00" font-size="4.8" text-anchor="middle" fill="#2a2a2a" stroke="#2a2a2a" stroke-width="0.12">10<tspan dy="-1.6" font-size="2.98">3</tspan></text>
<line x1="50.50" y1="385.00" x2="50.50" y2="386.20" stroke="#707070" stroke-width="0.5"/>
<text x="63.50" y="392.00" font-size="4.8" text-anchor="middle" fill="#2a2a2a" stroke="#2a2a2a" stroke-width="0.12">10<tspan dy="-1.6" font-size="2.98">4</tspan></text>
<line x1="63.50" y1="385.00" x2="63.50" y2="386.20" stroke="#707070" stroke-width="0.5"/>
<text x="75.60" y="392.00" font-size="4.8" text-anchor="middle" fill="#2a2a2a" stroke="#2a2a2a" stroke-width="0.12">10<tspan dy="-1.6" font-size="2.98">5</tspan></text>
<line x1="75.60" y1="385.00" x2="75.60" y2="386.20" stroke="#707070" stroke-width="0.5"/>
<text x="53.20" y="321.90" font-size="8.6" text-anchor="middle" fill="#222" stroke="#222" stroke-width="0.22">Flt3<tspan dx="0.7" dy="-3.96" font-size="5.16">hi</tspan><tspan dx="0.8" dy="3.96">Mpl</tspan><tspan dx="0.7" dy="-3.96" font-size="5.16">-</tspan></text>
<text x="8.41" y="357.70" font-size="8.4" text-anchor="middle" fill="#222" stroke="#222" stroke-width="0.1" transform="rotate(-90 8.41 357.70)">Flt3</text>
<rect x="106.40" y="327.30" width="57.70" height="57.80" fill="none" stroke="#707070" stroke-width="0.75"/>
<line x1="134.50" y1="327.30" x2="134.50" y2="385.10" stroke="#333" stroke-width="0.8"/>
<line x1="106.40" y1="358.20" x2="164.10" y2="358.20" stroke="#333" stroke-width="0.8"/>
<rect x="140.90" y="332.80" width="7.00" height="13.60" fill="none" stroke="#5a5a5a" stroke-width="0.75"/>
<ellipse cx="142.8" cy="345.0" rx="3.3" ry="2.7" fill="#333" opacity="0.7" filter="url(#b05)"/>
<ellipse cx="142.6" cy="345.1" rx="2.1" ry="1.7" fill="#000" filter="url(#b05)"/>
<text x="99.00" y="333.40" font-size="4.8" text-anchor="middle" fill="#2a2a2a" stroke="#2a2a2a" stroke-width="0.12">10<tspan dy="-1.6" font-size="2.98">5</tspan></text>
<line x1="105.20" y1="331.80" x2="106.40" y2="331.80" stroke="#707070" stroke-width="0.5"/>
<text x="99.00" y="345.00" font-size="4.8" text-anchor="middle" fill="#2a2a2a" stroke="#2a2a2a" stroke-width="0.12">10<tspan dy="-1.6" font-size="2.98">4</tspan></text>
<line x1="105.20" y1="343.40" x2="106.40" y2="343.40" stroke="#707070" stroke-width="0.5"/>
<text x="99.00" y="357.10" font-size="4.8" text-anchor="middle" fill="#2a2a2a" stroke="#2a2a2a" stroke-width="0.12">10<tspan dy="-1.6" font-size="2.98">3</tspan></text>
<line x1="105.20" y1="355.50" x2="106.40" y2="355.50" stroke="#707070" stroke-width="0.5"/>
<text x="99.00" y="368.30" font-size="4.8" text-anchor="middle" fill="#2a2a2a" stroke="#2a2a2a" stroke-width="0.12">10<tspan dy="-1.6" font-size="2.98">2</tspan></text>
<line x1="105.20" y1="366.70" x2="106.40" y2="366.70" stroke="#707070" stroke-width="0.5"/>
<text x="99.00" y="379.70" font-size="4.8" text-anchor="middle" fill="#2a2a2a" stroke="#2a2a2a" stroke-width="0.12">10<tspan dy="-1.6" font-size="2.98">1</tspan></text>
<line x1="105.20" y1="378.10" x2="106.40" y2="378.10" stroke="#707070" stroke-width="0.5"/>
<text x="113.40" y="392.20" font-size="4.8" text-anchor="middle" fill="#2a2a2a" stroke="#2a2a2a" stroke-width="0.12">10<tspan dy="-1.6" font-size="2.98">1</tspan></text>
<line x1="113.40" y1="385.10" x2="113.40" y2="386.30" stroke="#707070" stroke-width="0.5"/>
<text x="124.60" y="392.20" font-size="4.8" text-anchor="middle" fill="#2a2a2a" stroke="#2a2a2a" stroke-width="0.12">10<tspan dy="-1.6" font-size="2.98">2</tspan></text>
<line x1="124.60" y1="385.10" x2="124.60" y2="386.30" stroke="#707070" stroke-width="0.5"/>
<text x="135.60" y="392.20" font-size="4.8" text-anchor="middle" fill="#2a2a2a" stroke="#2a2a2a" stroke-width="0.12">10<tspan dy="-1.6" font-size="2.98">3</tspan></text>
<line x1="135.60" y1="385.10" x2="135.60" y2="386.30" stroke="#707070" stroke-width="0.5"/>
<text x="148.30" y="392.20" font-size="4.8" text-anchor="middle" fill="#2a2a2a" stroke="#2a2a2a" stroke-width="0.12">10<tspan dy="-1.6" font-size="2.98">4</tspan></text>
<line x1="148.30" y1="385.10" x2="148.30" y2="386.30" stroke="#707070" stroke-width="0.5"/>
<text x="159.90" y="392.20" font-size="4.8" text-anchor="middle" fill="#2a2a2a" stroke="#2a2a2a" stroke-width="0.12">10<tspan dy="-1.6" font-size="2.98">5</tspan></text>
<line x1="159.90" y1="385.10" x2="159.90" y2="386.30" stroke="#707070" stroke-width="0.5"/>
<text x="137.00" y="321.40" font-size="8.6" text-anchor="middle" fill="#222" stroke="#222" stroke-width="0.22">Flt3<tspan dx="0.7" dy="-3.96" font-size="5.16">hi</tspan><tspan dx="0.8" dy="3.96">Mpl</tspan><tspan dx="0.7" dy="-3.96" font-size="5.16">hi</tspan></text>
<text x="93.51" y="358.20" font-size="8.4" text-anchor="middle" fill="#222" stroke="#222" stroke-width="0.1" transform="rotate(-90 93.51 358.20)">Flt3</text>
<line x1="16.30" y1="405.20" x2="72.70" y2="405.20" stroke="#999" stroke-width="0.8"/>
<line x1="104.90" y1="405.20" x2="163.50" y2="405.20" stroke="#999" stroke-width="0.8"/>
<text x="90.50" y="407.68" font-size="8.6" text-anchor="middle" fill="#222" stroke="#222" stroke-width="0.1">Mpl</text>
</g>
</svg></body></html>
